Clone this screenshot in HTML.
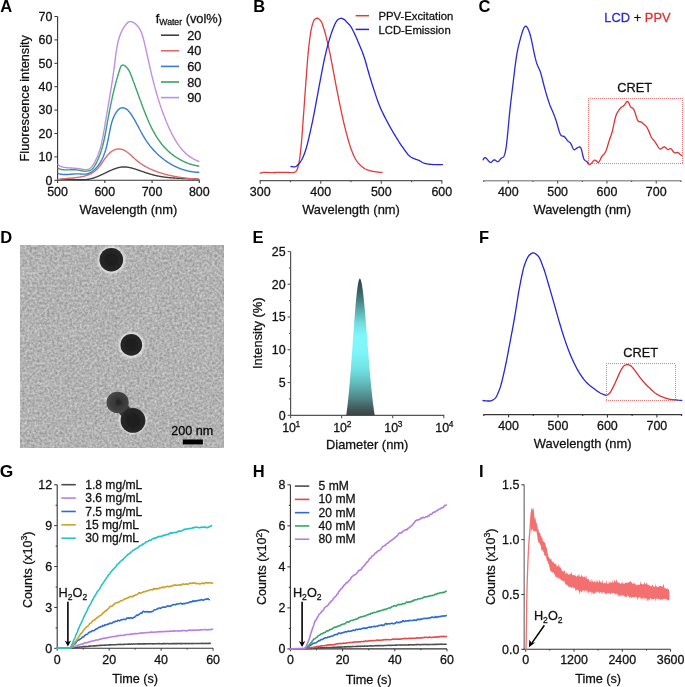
<!DOCTYPE html><html><head><meta charset="utf-8"><style>html,body{margin:0;padding:0;background:#fff;}svg{display:block;will-change:transform;}</style></head><body><svg width="685" height="687" viewBox="0 0 685 687" font-family='"Liberation Sans", sans-serif' fill="#111">
<style>text{stroke:#111;stroke-width:0.28px;stroke-linejoin:round}text[font-weight="bold"]{stroke:none}</style>
<rect width="685" height="687" fill="#fff"/>
<text x="0.3" y="12.3" font-size="16.5" font-weight="bold" fill="#000">A</text>
<text x="253.2" y="12.3" font-size="16.5" font-weight="bold" fill="#000">B</text>
<text x="478.4" y="12.3" font-size="16.5" font-weight="bold" fill="#000">C</text>
<text x="0.3" y="243" font-size="16.5" font-weight="bold" fill="#000">D</text>
<text x="252.6" y="243" font-size="16.5" font-weight="bold" fill="#000">E</text>
<text x="479" y="242.7" font-size="16.5" font-weight="bold" fill="#000">F</text>
<text x="-0.2" y="477.1" font-size="17.4" font-weight="bold" fill="#000">G</text>
<text x="252.8" y="477" font-size="16.5" font-weight="bold" fill="#000">H</text>
<text x="479" y="476.7" font-size="16.5" font-weight="bold" fill="#000">I</text>
<line x1="57.6" y1="16.5" x2="57.6" y2="180.8" stroke="#333" stroke-width="1.1"/>
<line x1="57.1" y1="180.3" x2="199.3" y2="180.3" stroke="#333" stroke-width="1.1"/>
<line x1="54.4" y1="180.3" x2="57.6" y2="180.3" stroke="#333" stroke-width="1"/>
<text x="52.4" y="184.65" font-size="12.45" text-anchor="end">0</text>
<line x1="54.4" y1="156.9" x2="57.6" y2="156.9" stroke="#333" stroke-width="1"/>
<text x="52.4" y="161.25" font-size="12.45" text-anchor="end">10</text>
<line x1="54.4" y1="133.5" x2="57.6" y2="133.5" stroke="#333" stroke-width="1"/>
<text x="52.4" y="137.85" font-size="12.45" text-anchor="end">20</text>
<line x1="54.4" y1="110.1" x2="57.6" y2="110.1" stroke="#333" stroke-width="1"/>
<text x="52.4" y="114.45" font-size="12.45" text-anchor="end">30</text>
<line x1="54.4" y1="86.7" x2="57.6" y2="86.7" stroke="#333" stroke-width="1"/>
<text x="52.4" y="91.05" font-size="12.45" text-anchor="end">40</text>
<line x1="54.4" y1="63.3" x2="57.6" y2="63.3" stroke="#333" stroke-width="1"/>
<text x="52.4" y="67.65" font-size="12.45" text-anchor="end">50</text>
<line x1="54.4" y1="39.9" x2="57.6" y2="39.9" stroke="#333" stroke-width="1"/>
<text x="52.4" y="44.25" font-size="12.45" text-anchor="end">60</text>
<line x1="54.4" y1="16.5" x2="57.6" y2="16.5" stroke="#333" stroke-width="1"/>
<text x="52.4" y="20.85" font-size="12.45" text-anchor="end">70</text>
<line x1="57.6" y1="180.3" x2="57.6" y2="182.9" stroke="#333" stroke-width="1.1"/>
<text x="57.6" y="195.7" font-size="12.45" text-anchor="middle">500</text>
<line x1="104.83" y1="180.3" x2="104.83" y2="182.9" stroke="#333" stroke-width="1.1"/>
<text x="104.83" y="195.7" font-size="12.45" text-anchor="middle">600</text>
<line x1="152.07" y1="180.3" x2="152.07" y2="182.9" stroke="#333" stroke-width="1.1"/>
<text x="152.07" y="195.7" font-size="12.45" text-anchor="middle">700</text>
<line x1="199.3" y1="180.3" x2="199.3" y2="182.9" stroke="#333" stroke-width="1.1"/>
<text x="199.3" y="195.7" font-size="12.45" text-anchor="middle">800</text>
<text x="128.4" y="214.1" font-size="12.9" text-anchor="middle">Wavelength (nm)</text>
<text x="28.7" y="98.3" font-size="12.7" text-anchor="middle" transform="rotate(-90 28.7 98.3)">Fluorescence intensity</text>
<text x="155.7" y="22.5" font-size="12.8">f<tspan font-size="8.7" dy="2.6">Water</tspan><tspan dy="-2.6"> (vol%)</tspan></text>
<line x1="160.9" y1="35.2" x2="179.1" y2="35.2" stroke="#404040" stroke-width="1.6"/>
<text x="187.2" y="39.7" font-size="12.8">20</text>
<line x1="160.9" y1="50.8" x2="179.1" y2="50.8" stroke="#e46a6a" stroke-width="1.6"/>
<text x="187.2" y="55.3" font-size="12.8">40</text>
<line x1="160.9" y1="66.4" x2="179.1" y2="66.4" stroke="#3a7bd8" stroke-width="1.6"/>
<text x="187.2" y="70.9" font-size="12.8">60</text>
<line x1="160.9" y1="82" x2="179.1" y2="82" stroke="#35a465" stroke-width="1.6"/>
<text x="187.2" y="86.5" font-size="12.8">80</text>
<line x1="160.9" y1="97.6" x2="179.1" y2="97.6" stroke="#c08de6" stroke-width="1.6"/>
<text x="187.2" y="102.1" font-size="12.8">90</text>
<polyline points="57.99,179.95 58.37,179.87 58.75,179.8 59.14,179.74 59.52,179.68 59.91,179.62 60.3,179.57 60.69,179.52 61.08,179.48 61.48,179.44 61.87,179.41 62.27,179.38 62.66,179.35 63.06,179.32 63.46,179.3 63.86,179.29 64.25,179.27 64.66,179.26 65.06,179.25 65.46,179.25 65.86,179.25 66.27,179.25 66.67,179.25 67.07,179.25 67.48,179.26 67.89,179.27 68.29,179.28 68.7,179.29 69.11,179.3 69.52,179.32 69.92,179.33 70.33,179.35 70.74,179.37 71.15,179.39 71.56,179.41 71.97,179.43 72.38,179.45 72.79,179.47 73.2,179.5 73.61,179.52 74.02,179.54 74.43,179.56 74.84,179.58 75.25,179.6 75.66,179.63 76.07,179.65 76.48,179.66 76.89,179.68 77.3,179.7 77.71,179.72 78.12,179.73 78.53,179.74 78.94,179.76 79.35,179.77 79.75,179.78 80.16,179.78 80.57,179.79 80.97,179.79 81.38,179.79 81.78,179.78 82.19,179.78 82.59,179.77 82.99,179.76 83.4,179.75 83.8,179.73 84.2,179.71 84.6,179.68 85,179.66 85.39,179.63 85.79,179.59 86.19,179.55 86.58,179.51 86.97,179.46 87.37,179.41 87.76,179.35 88.15,179.29 88.54,179.23 88.93,179.16 89.31,179.08 89.7,179.01 90.08,178.92 90.47,178.83 90.85,178.74 91.23,178.65 91.61,178.55 91.99,178.44 92.37,178.34 92.75,178.23 93.12,178.11 93.5,177.99 93.88,177.87 94.25,177.75 94.62,177.62 95,177.49 95.37,177.36 95.74,177.22 96.11,177.08 96.48,176.94 96.85,176.79 97.22,176.64 97.59,176.49 97.96,176.34 98.33,176.19 98.7,176.03 99.06,175.87 99.43,175.71 99.8,175.55 100.16,175.39 100.53,175.22 100.9,175.06 101.26,174.89 101.63,174.72 101.99,174.55 102.36,174.37 102.72,174.2 103.09,174.03 103.45,173.85 103.82,173.68 104.18,173.5 104.55,173.32 104.92,173.15 105.28,172.97 105.65,172.79 106.01,172.61 106.38,172.43 106.74,172.26 107.11,172.08 107.48,171.9 107.84,171.73 108.21,171.55 108.58,171.38 108.94,171.21 109.31,171.04 109.68,170.87 110.04,170.7 110.41,170.53 110.78,170.37 111.15,170.21 111.52,170.04 111.89,169.89 112.26,169.73 112.63,169.58 112.99,169.43 113.37,169.28 113.74,169.14 114.11,169 114.48,168.86 114.85,168.72 115.22,168.59 115.59,168.47 115.97,168.34 116.34,168.23 116.71,168.11 117.09,168 117.46,167.9 117.83,167.79 118.21,167.7 118.59,167.61 118.96,167.52 119.34,167.44 119.72,167.36 120.09,167.29 120.47,167.23 120.85,167.17 121.23,167.12 121.61,167.07 121.99,167.03 122.37,167 122.75,166.97 123.13,166.95 123.52,166.94 123.9,166.93 124.28,166.93 124.67,166.94 125.05,166.95 125.44,166.97 125.82,167 126.21,167.03 126.6,167.07 126.98,167.11 127.37,167.16 127.76,167.22 128.15,167.28 128.54,167.35 128.93,167.42 129.32,167.49 129.71,167.57 130.1,167.66 130.49,167.75 130.88,167.84 131.27,167.93 131.66,168.03 132.05,168.14 132.44,168.24 132.83,168.35 133.22,168.47 133.61,168.58 134,168.7 134.39,168.82 134.79,168.94 135.18,169.06 135.57,169.19 135.96,169.32 136.35,169.44 136.74,169.57 137.13,169.7 137.52,169.84 137.91,169.97 138.3,170.1 138.69,170.23 139.07,170.37 139.46,170.5 139.85,170.63 140.24,170.77 140.63,170.9 141.01,171.03 141.4,171.17 141.79,171.3 142.17,171.43 142.56,171.57 142.95,171.7 143.33,171.83 143.72,171.96 144.11,172.09 144.49,172.22 144.88,172.35 145.27,172.48 145.65,172.61 146.04,172.74 146.42,172.87 146.81,172.99 147.2,173.12 147.58,173.24 147.97,173.37 148.36,173.49 148.74,173.61 149.13,173.73 149.51,173.85 149.9,173.97 150.29,174.08 150.68,174.2 151.06,174.31 151.45,174.42 151.84,174.53 152.23,174.64 152.61,174.74 153,174.85 153.39,174.95 153.78,175.05 154.17,175.15 154.56,175.25 154.95,175.34 155.34,175.44 155.73,175.53 156.12,175.62 156.51,175.7 156.9,175.79 157.29,175.87 157.68,175.95 158.08,176.03 158.47,176.11 158.86,176.18 159.25,176.26 159.65,176.33 160.04,176.4 160.43,176.47 160.83,176.54 161.22,176.6 161.62,176.67 162.01,176.73 162.41,176.79 162.8,176.85 163.2,176.91 163.59,176.97 163.99,177.02 164.38,177.07 164.78,177.13 165.18,177.18 165.57,177.23 165.97,177.28 166.37,177.32 166.76,177.37 167.16,177.41 167.56,177.46 167.96,177.5 168.36,177.54 168.75,177.58 169.15,177.62 169.55,177.66 169.95,177.69 170.35,177.73 170.75,177.76 171.15,177.8 171.54,177.83 171.94,177.86 172.34,177.89 172.74,177.92 173.14,177.95 173.54,177.98 173.94,178.01 174.34,178.04 174.74,178.06 175.14,178.09 175.54,178.11 175.94,178.14 176.35,178.16 176.75,178.19 177.15,178.21 177.55,178.23 177.95,178.25 178.35,178.27 178.75,178.29 179.15,178.31 179.55,178.33 179.95,178.35 180.36,178.37 180.76,178.39 181.16,178.41 181.56,178.43 181.96,178.45 182.36,178.46 182.76,178.48 183.17,178.5 183.57,178.52 183.97,178.53 184.37,178.55 184.77,178.57 185.17,178.58 185.58,178.6 185.98,178.62 186.38,178.63 186.78,178.65 187.18,178.67 187.58,178.69 187.98,178.7 188.39,178.72 188.79,178.74 189.19,178.76 189.59,178.78 189.99,178.79 190.39,178.81 190.79,178.83 191.2,178.85 191.6,178.87 192,178.89 192.4,178.91 192.8,178.94 193.2,178.96 193.6,178.98 194,179 194.4,179.03 194.8,179.05 195.2,179.07 195.6,179.1 196,179.13 196.4,179.15 196.8,179.18 197.2,179.21 197.6,179.24 198,179.27 198.4,179.3 198.8,179.33" fill="none" stroke="#404040" stroke-width="1.4" stroke-linejoin="round" stroke-linecap="round"/>
<polyline points="58.07,179.55 58.44,179.48 58.81,179.42 59.18,179.36 59.56,179.3 59.93,179.24 60.31,179.18 60.69,179.13 61.08,179.08 61.46,179.03 61.85,178.98 62.23,178.93 62.62,178.89 63.01,178.84 63.41,178.8 63.8,178.76 64.2,178.72 64.59,178.68 64.99,178.64 65.39,178.6 65.79,178.57 66.19,178.53 66.59,178.5 67,178.46 67.4,178.43 67.81,178.39 68.21,178.36 68.62,178.32 69.03,178.29 69.43,178.25 69.84,178.22 70.25,178.18 70.66,178.15 71.07,178.11 71.48,178.08 71.89,178.04 72.3,178 72.71,177.96 73.12,177.92 73.53,177.88 73.94,177.84 74.35,177.8 74.76,177.76 75.17,177.71 75.58,177.66 75.99,177.62 76.4,177.57 76.81,177.51 77.22,177.46 77.63,177.41 78.03,177.35 78.44,177.29 78.84,177.23 79.25,177.17 79.65,177.1 80.05,177.03 80.45,176.96 80.85,176.89 81.25,176.81 81.65,176.73 82.05,176.65 82.44,176.57 82.84,176.48 83.23,176.39 83.62,176.3 84.01,176.2 84.39,176.1 84.78,176 85.16,175.89 85.55,175.78 85.93,175.66 86.3,175.54 86.68,175.42 87.05,175.29 87.43,175.16 87.8,175.03 88.16,174.89 88.53,174.74 88.89,174.6 89.25,174.44 89.61,174.29 89.96,174.12 90.32,173.96 90.67,173.79 91.01,173.61 91.36,173.43 91.7,173.24 92.04,173.05 92.37,172.85 92.71,172.65 93.04,172.44 93.36,172.22 93.68,172 94,171.78 94.32,171.55 94.63,171.31 94.94,171.07 95.25,170.82 95.55,170.56 95.85,170.3 96.14,170.03 96.43,169.75 96.72,169.47 97,169.19 97.29,168.89 97.56,168.6 97.84,168.29 98.11,167.99 98.38,167.67 98.65,167.36 98.91,167.04 99.17,166.71 99.43,166.39 99.69,166.06 99.95,165.72 100.2,165.39 100.45,165.05 100.7,164.71 100.95,164.36 101.2,164.02 101.45,163.67 101.69,163.32 101.94,162.97 102.18,162.62 102.43,162.27 102.67,161.92 102.91,161.57 103.16,161.21 103.4,160.86 103.64,160.51 103.89,160.16 104.13,159.81 104.37,159.47 104.62,159.12 104.86,158.77 105.11,158.43 105.35,158.09 105.6,157.75 105.85,157.42 106.1,157.09 106.35,156.76 106.61,156.43 106.86,156.11 107.12,155.79 107.38,155.48 107.64,155.17 107.91,154.87 108.17,154.57 108.44,154.27 108.71,153.98 108.99,153.7 109.26,153.42 109.54,153.15 109.83,152.89 110.11,152.63 110.4,152.37 110.7,152.13 111,151.89 111.3,151.66 111.6,151.44 111.91,151.23 112.23,151.02 112.54,150.82 112.87,150.64 113.19,150.46 113.53,150.29 113.86,150.12 114.2,149.97 114.55,149.83 114.9,149.7 115.25,149.58 115.61,149.47 115.97,149.37 116.33,149.28 116.7,149.2 117.06,149.14 117.43,149.08 117.8,149.04 118.17,149 118.54,148.98 118.91,148.98 119.28,148.98 119.64,149 120.01,149.03 120.38,149.07 120.74,149.12 121.1,149.19 121.46,149.27 121.81,149.36 122.17,149.47 122.52,149.58 122.87,149.71 123.22,149.85 123.56,150 123.91,150.16 124.25,150.32 124.59,150.5 124.93,150.69 125.27,150.88 125.61,151.09 125.94,151.3 126.28,151.52 126.61,151.74 126.94,151.97 127.27,152.21 127.6,152.46 127.93,152.71 128.26,152.97 128.58,153.23 128.91,153.5 129.23,153.77 129.55,154.04 129.88,154.32 130.2,154.6 130.52,154.89 130.84,155.17 131.16,155.46 131.48,155.75 131.8,156.05 132.12,156.34 132.43,156.63 132.75,156.93 133.07,157.22 133.39,157.52 133.71,157.81 134.02,158.1 134.34,158.4 134.66,158.69 134.98,158.97 135.29,159.26 135.61,159.54 135.93,159.82 136.25,160.1 136.57,160.37 136.89,160.64 137.21,160.9 137.53,161.16 137.85,161.42 138.17,161.67 138.49,161.92 138.82,162.17 139.14,162.41 139.46,162.65 139.79,162.89 140.11,163.13 140.44,163.36 140.77,163.58 141.09,163.81 141.42,164.03 141.75,164.25 142.08,164.47 142.41,164.68 142.74,164.89 143.07,165.1 143.41,165.3 143.74,165.51 144.07,165.71 144.41,165.9 144.75,166.1 145.08,166.29 145.42,166.48 145.76,166.67 146.1,166.86 146.44,167.04 146.79,167.23 147.13,167.41 147.48,167.58 147.82,167.76 148.17,167.94 148.52,168.11 148.87,168.28 149.22,168.45 149.57,168.62 149.93,168.78 150.28,168.95 150.64,169.11 151,169.27 151.36,169.43 151.72,169.59 152.08,169.75 152.44,169.9 152.8,170.05 153.17,170.21 153.53,170.36 153.9,170.5 154.27,170.65 154.64,170.8 155.01,170.94 155.38,171.08 155.75,171.23 156.13,171.37 156.5,171.5 156.88,171.64 157.25,171.78 157.63,171.91 158.01,172.04 158.39,172.17 158.77,172.3 159.15,172.43 159.53,172.56 159.91,172.68 160.29,172.81 160.68,172.93 161.06,173.05 161.45,173.17 161.84,173.29 162.22,173.4 162.61,173.52 163,173.63 163.39,173.75 163.78,173.86 164.17,173.97 164.56,174.08 164.95,174.18 165.35,174.29 165.74,174.39 166.13,174.5 166.53,174.6 166.92,174.7 167.32,174.8 167.71,174.9 168.11,174.99 168.51,175.09 168.9,175.18 169.3,175.28 169.7,175.37 170.1,175.46 170.5,175.55 170.89,175.64 171.29,175.72 171.69,175.81 172.09,175.89 172.49,175.98 172.9,176.06 173.3,176.14 173.7,176.22 174.1,176.3 174.5,176.37 174.9,176.45 175.31,176.53 175.71,176.6 176.11,176.67 176.51,176.74 176.92,176.81 177.32,176.88 177.72,176.95 178.12,177.02 178.53,177.08 178.93,177.15 179.33,177.21 179.74,177.27 180.14,177.34 180.54,177.4 180.95,177.45 181.35,177.51 181.75,177.57 182.15,177.63 182.56,177.68 182.96,177.74 183.36,177.79 183.76,177.84 184.17,177.89 184.57,177.94 184.97,177.99 185.37,178.04 185.77,178.09 186.17,178.13 186.57,178.18 186.97,178.22 187.37,178.26 187.77,178.31 188.17,178.35 188.57,178.39 188.97,178.43 189.37,178.47 189.77,178.5 190.16,178.54 190.56,178.58 190.96,178.61 191.35,178.64 191.75,178.68 192.14,178.71 192.54,178.74 192.93,178.77 193.33,178.8 193.72,178.83 194.11,178.86 194.5,178.88 194.89,178.91 195.28,178.94 195.67,178.96 196.06,178.98 196.45,179.01 196.84,179.03 197.22,179.05 197.61,179.07 197.99,179.09 198.38,179.11 198.76,179.13" fill="none" stroke="#e46a6a" stroke-width="1.4" stroke-linejoin="round" stroke-linecap="round"/>
<polyline points="57.97,173.44 58.38,173.58 58.79,173.7 59.19,173.82 59.59,173.92 60,174.02 60.4,174.11 60.8,174.19 61.2,174.26 61.6,174.32 62,174.37 62.4,174.42 62.79,174.46 63.19,174.49 63.59,174.52 63.98,174.54 64.38,174.55 64.78,174.56 65.17,174.57 65.56,174.56 65.96,174.56 66.35,174.55 66.75,174.54 67.14,174.52 67.54,174.5 67.93,174.47 68.32,174.45 68.72,174.42 69.11,174.39 69.51,174.35 69.9,174.32 70.29,174.29 70.69,174.25 71.09,174.21 71.48,174.18 71.88,174.14 72.27,174.11 72.67,174.07 73.07,174.04 73.47,174.01 73.87,173.98 74.26,173.95 74.67,173.92 75.07,173.9 75.47,173.88 75.87,173.87 76.27,173.85 76.68,173.85 77.08,173.84 77.49,173.84 77.9,173.85 78.31,173.86 78.72,173.88 79.13,173.9 79.54,173.92 79.95,173.95 80.36,173.98 80.77,174.01 81.19,174.04 81.6,174.07 82.01,174.09 82.42,174.12 82.83,174.13 83.23,174.15 83.64,174.16 84.04,174.16 84.44,174.15 84.84,174.14 85.24,174.12 85.63,174.08 86.02,174.04 86.41,173.98 86.8,173.91 87.18,173.83 87.55,173.73 87.93,173.62 88.3,173.5 88.66,173.37 89.03,173.23 89.39,173.07 89.74,172.91 90.1,172.73 90.44,172.55 90.79,172.36 91.13,172.15 91.47,171.94 91.8,171.72 92.13,171.5 92.45,171.26 92.78,171.02 93.09,170.77 93.41,170.52 93.72,170.26 94.02,170 94.32,169.72 94.62,169.45 94.91,169.17 95.2,168.89 95.49,168.6 95.77,168.31 96.04,168.01 96.32,167.72 96.58,167.42 96.85,167.12 97.11,166.81 97.36,166.51 97.61,166.2 97.86,165.89 98.11,165.58 98.35,165.26 98.58,164.94 98.81,164.62 99.04,164.3 99.27,163.97 99.49,163.65 99.7,163.32 99.92,162.99 100.13,162.65 100.33,162.32 100.54,161.98 100.74,161.64 100.93,161.3 101.13,160.96 101.32,160.61 101.5,160.27 101.69,159.92 101.87,159.57 102.05,159.22 102.22,158.86 102.39,158.51 102.56,158.15 102.73,157.79 102.89,157.43 103.05,157.07 103.21,156.7 103.36,156.34 103.51,155.97 103.66,155.6 103.81,155.23 103.95,154.86 104.09,154.49 104.23,154.12 104.37,153.74 104.51,153.37 104.64,152.99 104.77,152.61 104.9,152.23 105.02,151.85 105.14,151.47 105.27,151.08 105.39,150.7 105.5,150.31 105.62,149.93 105.73,149.54 105.84,149.15 105.96,148.76 106.06,148.38 106.17,147.98 106.28,147.59 106.38,147.2 106.48,146.81 106.58,146.41 106.68,146.02 106.78,145.63 106.87,145.23 106.97,144.83 107.06,144.44 107.15,144.04 107.25,143.64 107.34,143.25 107.43,142.85 107.51,142.45 107.6,142.05 107.69,141.65 107.77,141.25 107.86,140.85 107.94,140.45 108.02,140.05 108.1,139.65 108.18,139.25 108.26,138.85 108.34,138.45 108.42,138.05 108.5,137.65 108.58,137.24 108.66,136.84 108.74,136.44 108.81,136.04 108.89,135.64 108.97,135.24 109.05,134.84 109.12,134.44 109.2,134.04 109.28,133.64 109.35,133.24 109.43,132.84 109.5,132.45 109.58,132.05 109.66,131.65 109.74,131.26 109.81,130.86 109.89,130.46 109.97,130.07 110.05,129.67 110.13,129.28 110.21,128.89 110.29,128.49 110.37,128.1 110.45,127.71 110.54,127.32 110.62,126.93 110.71,126.54 110.79,126.15 110.88,125.76 110.97,125.38 111.07,124.99 111.16,124.61 111.26,124.22 111.36,123.84 111.46,123.45 111.57,123.07 111.67,122.69 111.78,122.31 111.9,121.93 112.01,121.55 112.13,121.17 112.25,120.79 112.38,120.41 112.51,120.04 112.64,119.66 112.78,119.28 112.92,118.91 113.06,118.54 113.21,118.16 113.36,117.79 113.52,117.42 113.68,117.05 113.85,116.68 114.02,116.32 114.2,115.95 114.38,115.58 114.57,115.22 114.76,114.85 114.96,114.49 115.16,114.12 115.37,113.76 115.58,113.4 115.8,113.04 116.03,112.68 116.26,112.32 116.5,111.97 116.74,111.62 116.99,111.27 117.25,110.93 117.51,110.6 117.78,110.29 118.06,109.98 118.34,109.69 118.62,109.42 118.92,109.16 119.22,108.92 119.52,108.71 119.83,108.51 120.14,108.35 120.46,108.2 120.79,108.08 121.12,107.98 121.45,107.91 121.78,107.86 122.12,107.82 122.45,107.81 122.79,107.82 123.12,107.85 123.45,107.9 123.79,107.97 124.11,108.05 124.44,108.16 124.76,108.28 125.08,108.42 125.39,108.57 125.7,108.74 126.01,108.92 126.32,109.12 126.62,109.34 126.91,109.56 127.21,109.8 127.5,110.05 127.78,110.31 128.07,110.59 128.35,110.87 128.63,111.16 128.9,111.46 129.17,111.78 129.44,112.1 129.71,112.42 129.97,112.76 130.23,113.1 130.49,113.44 130.74,113.8 130.99,114.15 131.24,114.51 131.49,114.88 131.73,115.24 131.97,115.61 132.21,115.99 132.44,116.36 132.68,116.73 132.91,117.11 133.14,117.48 133.36,117.85 133.58,118.22 133.81,118.6 134.02,118.97 134.24,119.34 134.46,119.71 134.67,120.08 134.88,120.45 135.09,120.81 135.3,121.18 135.5,121.55 135.7,121.91 135.91,122.28 136.11,122.65 136.31,123.01 136.51,123.37 136.7,123.74 136.9,124.1 137.09,124.46 137.29,124.82 137.48,125.18 137.67,125.54 137.86,125.9 138.05,126.26 138.24,126.62 138.43,126.98 138.62,127.33 138.8,127.69 138.99,128.04 139.18,128.4 139.36,128.75 139.55,129.11 139.74,129.46 139.92,129.81 140.11,130.16 140.29,130.51 140.48,130.86 140.67,131.21 140.85,131.56 141.04,131.91 141.23,132.26 141.41,132.6 141.6,132.95 141.79,133.29 141.98,133.64 142.17,133.98 142.36,134.32 142.55,134.67 142.75,135.01 142.94,135.35 143.13,135.69 143.33,136.03 143.53,136.36 143.73,136.7 143.93,137.04 144.13,137.37 144.33,137.71 144.53,138.04 144.74,138.38 144.95,138.71 145.16,139.04 145.37,139.37 145.58,139.71 145.8,140.04 146.01,140.36 146.23,140.69 146.45,141.02 146.68,141.35 146.9,141.67 147.12,142 147.35,142.32 147.58,142.64 147.81,142.96 148.04,143.29 148.28,143.61 148.51,143.92 148.75,144.24 148.99,144.56 149.23,144.87 149.47,145.19 149.72,145.5 149.96,145.82 150.21,146.13 150.46,146.44 150.71,146.75 150.96,147.06 151.22,147.36 151.47,147.67 151.73,147.97 151.99,148.28 152.25,148.58 152.51,148.88 152.78,149.18 153.04,149.48 153.31,149.78 153.58,150.07 153.85,150.37 154.12,150.66 154.39,150.95 154.67,151.24 154.94,151.53 155.22,151.82 155.5,152.11 155.78,152.39 156.06,152.68 156.35,152.96 156.63,153.24 156.92,153.52 157.21,153.8 157.49,154.08 157.79,154.35 158.08,154.63 158.37,154.9 158.67,155.17 158.97,155.44 159.26,155.71 159.56,155.97 159.86,156.24 160.17,156.5 160.47,156.76 160.78,157.02 161.08,157.28 161.39,157.54 161.7,157.79 162.01,158.04 162.32,158.29 162.64,158.54 162.95,158.79 163.27,159.04 163.59,159.28 163.91,159.52 164.23,159.77 164.55,160 164.87,160.24 165.2,160.48 165.52,160.71 165.85,160.94 166.18,161.17 166.51,161.4 166.84,161.63 167.17,161.85 167.5,162.07 167.84,162.29 168.17,162.51 168.51,162.73 168.85,162.94 169.19,163.15 169.53,163.36 169.87,163.57 170.21,163.78 170.56,163.98 170.9,164.18 171.25,164.38 171.6,164.58 171.95,164.77 172.3,164.97 172.65,165.16 173,165.35 173.35,165.54 173.71,165.72 174.06,165.9 174.42,166.08 174.78,166.26 175.14,166.44 175.5,166.61 175.86,166.78 176.22,166.95 176.59,167.12 176.95,167.28 177.32,167.44 177.69,167.6 178.05,167.76 178.42,167.92 178.79,168.07 179.16,168.22 179.54,168.37 179.91,168.51 180.28,168.65 180.66,168.79 181.03,168.93 181.41,169.07 181.79,169.2 182.17,169.33 182.55,169.46 182.93,169.58 183.31,169.71 183.7,169.83 184.08,169.94 184.47,170.06 184.85,170.17 185.24,170.28 185.63,170.39 186.01,170.49 186.4,170.59 186.79,170.69 187.19,170.79 187.58,170.88 187.97,170.97 188.37,171.06 188.76,171.15 189.16,171.23 189.55,171.31 189.95,171.39 190.35,171.46 190.75,171.53 191.15,171.6 191.55,171.66 191.95,171.73 192.35,171.79 192.76,171.84 193.16,171.9 193.57,171.95 193.97,172 194.38,172.04 194.79,172.08 195.19,172.12 195.6,172.16 196.01,172.19 196.42,172.22 196.83,172.25 197.25,172.27 197.66,172.29 198.07,172.31 198.49,172.32 198.9,172.34" fill="none" stroke="#3a7bd8" stroke-width="1.4" stroke-linejoin="round" stroke-linecap="round"/>
<polyline points="58.01,168.26 58.38,168.44 58.75,168.6 59.13,168.76 59.5,168.9 59.88,169.03 60.26,169.15 60.65,169.26 61.04,169.36 61.43,169.44 61.82,169.52 62.21,169.59 62.61,169.65 63.01,169.71 63.4,169.75 63.81,169.79 64.21,169.83 64.61,169.85 65.02,169.87 65.42,169.89 65.83,169.9 66.24,169.9 66.64,169.9 67.05,169.9 67.46,169.89 67.87,169.89 68.28,169.88 68.69,169.86 69.1,169.85 69.51,169.83 69.92,169.82 70.32,169.8 70.73,169.79 71.14,169.78 71.54,169.76 71.95,169.75 72.35,169.74 72.75,169.74 73.16,169.73 73.56,169.73 73.95,169.74 74.35,169.74 74.74,169.76 75.14,169.78 75.53,169.8 75.91,169.83 76.3,169.87 76.68,169.91 77.06,169.96 77.44,170.02 77.82,170.08 78.2,170.14 78.57,170.21 78.95,170.29 79.33,170.36 79.71,170.44 80.09,170.51 80.47,170.59 80.86,170.66 81.25,170.73 81.64,170.8 82.04,170.87 82.44,170.93 82.85,170.99 83.27,171.04 83.68,171.08 84.11,171.12 84.53,171.15 84.96,171.17 85.39,171.18 85.82,171.18 86.25,171.17 86.67,171.15 87.09,171.12 87.51,171.07 87.92,171.01 88.33,170.94 88.73,170.85 89.12,170.75 89.5,170.63 89.87,170.5 90.22,170.35 90.57,170.18 90.9,169.99 91.23,169.79 91.54,169.57 91.84,169.34 92.13,169.1 92.41,168.84 92.68,168.57 92.95,168.29 93.2,167.99 93.45,167.69 93.69,167.38 93.92,167.06 94.15,166.73 94.37,166.4 94.58,166.06 94.8,165.72 95,165.37 95.2,165.02 95.4,164.66 95.6,164.3 95.79,163.95 95.98,163.59 96.17,163.23 96.35,162.87 96.54,162.5 96.72,162.14 96.9,161.78 97.07,161.42 97.25,161.05 97.42,160.69 97.59,160.32 97.75,159.96 97.92,159.59 98.08,159.22 98.24,158.85 98.4,158.49 98.56,158.12 98.71,157.75 98.87,157.38 99.02,157 99.17,156.63 99.31,156.26 99.46,155.89 99.6,155.51 99.74,155.14 99.88,154.76 100.02,154.39 100.15,154.01 100.29,153.64 100.42,153.26 100.55,152.88 100.68,152.5 100.81,152.12 100.93,151.75 101.05,151.37 101.18,150.99 101.3,150.6 101.42,150.22 101.53,149.84 101.65,149.46 101.76,149.08 101.88,148.69 101.99,148.31 102.1,147.93 102.21,147.54 102.31,147.16 102.42,146.77 102.53,146.39 102.63,146 102.73,145.62 102.83,145.23 102.93,144.84 103.03,144.45 103.13,144.07 103.22,143.68 103.32,143.29 103.41,142.9 103.51,142.51 103.6,142.12 103.69,141.73 103.78,141.34 103.87,140.95 103.96,140.56 104.04,140.17 104.13,139.78 104.21,139.39 104.3,139 104.38,138.61 104.46,138.21 104.55,137.82 104.63,137.43 104.71,137.04 104.79,136.64 104.87,136.25 104.94,135.86 105.02,135.46 105.1,135.07 105.17,134.67 105.25,134.28 105.33,133.88 105.4,133.49 105.47,133.1 105.55,132.7 105.62,132.31 105.69,131.91 105.77,131.52 105.84,131.12 105.91,130.72 105.98,130.33 106.05,129.93 106.12,129.54 106.19,129.14 106.27,128.75 106.34,128.35 106.41,127.95 106.48,127.56 106.54,127.16 106.61,126.77 106.68,126.37 106.75,125.97 106.82,125.58 106.89,125.18 106.96,124.79 107.03,124.39 107.1,123.99 107.17,123.6 107.24,123.2 107.31,122.81 107.38,122.41 107.45,122.01 107.52,121.62 107.59,121.22 107.66,120.83 107.73,120.43 107.8,120.04 107.87,119.64 107.94,119.25 108.01,118.85 108.09,118.46 108.16,118.06 108.23,117.67 108.3,117.27 108.37,116.88 108.45,116.48 108.52,116.09 108.59,115.69 108.67,115.3 108.74,114.9 108.81,114.51 108.89,114.11 108.96,113.72 109.04,113.33 109.11,112.93 109.19,112.54 109.26,112.14 109.34,111.75 109.41,111.36 109.49,110.96 109.57,110.57 109.64,110.17 109.72,109.78 109.8,109.39 109.87,108.99 109.95,108.6 110.03,108.21 110.11,107.81 110.19,107.42 110.26,107.03 110.34,106.63 110.42,106.24 110.5,105.85 110.58,105.46 110.66,105.06 110.74,104.67 110.82,104.28 110.91,103.89 110.99,103.49 111.07,103.1 111.15,102.71 111.23,102.32 111.32,101.93 111.4,101.53 111.48,101.14 111.57,100.75 111.65,100.36 111.74,99.97 111.82,99.58 111.91,99.18 111.99,98.79 112.08,98.4 112.16,98.01 112.25,97.62 112.34,97.23 112.43,96.84 112.51,96.45 112.6,96.06 112.69,95.66 112.78,95.27 112.87,94.88 112.96,94.49 113.05,94.1 113.14,93.71 113.23,93.32 113.32,92.93 113.41,92.54 113.5,92.15 113.6,91.76 113.69,91.37 113.78,90.98 113.88,90.59 113.97,90.2 114.07,89.81 114.16,89.43 114.26,89.04 114.35,88.65 114.45,88.26 114.55,87.87 114.64,87.48 114.74,87.09 114.84,86.7 114.94,86.31 115.04,85.93 115.14,85.54 115.24,85.15 115.34,84.76 115.44,84.37 115.54,83.99 115.64,83.6 115.75,83.21 115.85,82.82 115.95,82.43 116.06,82.05 116.16,81.66 116.26,81.27 116.37,80.88 116.48,80.5 116.58,80.11 116.69,79.72 116.8,79.34 116.91,78.95 117.01,78.56 117.12,78.18 117.23,77.79 117.34,77.4 117.45,77.02 117.56,76.63 117.68,76.25 117.79,75.86 117.9,75.47 118.01,75.09 118.13,74.7 118.24,74.32 118.36,73.93 118.47,73.55 118.59,73.16 118.71,72.78 118.82,72.39 118.94,72.01 119.06,71.62 119.18,71.24 119.3,70.85 119.42,70.47 119.54,70.08 119.66,69.7 119.78,69.31 119.9,68.93 120.03,68.55 120.15,68.17 120.28,67.8 120.42,67.43 120.56,67.09 120.71,66.76 120.87,66.45 121.04,66.16 121.23,65.9 121.43,65.67 121.64,65.47 121.87,65.31 122.12,65.18 122.39,65.1 122.68,65.07 122.99,65.08 123.32,65.14 123.67,65.25 124.03,65.39 124.39,65.57 124.75,65.79 125.11,66.04 125.47,66.32 125.82,66.62 126.17,66.94 126.5,67.28 126.83,67.63 127.15,68 127.45,68.37 127.74,68.74 128.01,69.11 128.27,69.47 128.51,69.84 128.75,70.21 128.97,70.58 129.18,70.95 129.38,71.32 129.57,71.68 129.75,72.05 129.93,72.42 130.1,72.79 130.26,73.15 130.41,73.52 130.57,73.89 130.71,74.25 130.86,74.62 131,74.99 131.14,75.36 131.28,75.72 131.41,76.09 131.55,76.46 131.69,76.83 131.83,77.2 131.97,77.57 132.1,77.93 132.24,78.3 132.38,78.67 132.52,79.04 132.65,79.41 132.79,79.78 132.93,80.15 133.06,80.52 133.2,80.9 133.34,81.27 133.47,81.64 133.61,82.01 133.75,82.38 133.88,82.75 134.02,83.12 134.16,83.5 134.29,83.87 134.43,84.24 134.56,84.61 134.7,84.99 134.84,85.36 134.97,85.73 135.11,86.11 135.25,86.48 135.38,86.85 135.52,87.23 135.65,87.6 135.79,87.97 135.93,88.35 136.06,88.72 136.2,89.1 136.33,89.47 136.47,89.85 136.61,90.22 136.74,90.6 136.88,90.97 137.02,91.35 137.15,91.72 137.29,92.1 137.43,92.47 137.56,92.85 137.7,93.22 137.84,93.6 137.97,93.97 138.11,94.35 138.25,94.73 138.39,95.1 138.52,95.48 138.66,95.85 138.8,96.23 138.94,96.61 139.07,96.98 139.21,97.36 139.35,97.73 139.49,98.11 139.63,98.49 139.77,98.86 139.9,99.24 140.04,99.62 140.18,99.99 140.32,100.37 140.46,100.75 140.6,101.12 140.74,101.5 140.88,101.87 141.02,102.25 141.16,102.63 141.3,103 141.44,103.38 141.58,103.76 141.73,104.13 141.87,104.51 142.01,104.89 142.15,105.26 142.29,105.64 142.44,106.02 142.58,106.39 142.72,106.77 142.86,107.14 143.01,107.52 143.15,107.9 143.3,108.27 143.44,108.65 143.59,109.02 143.73,109.4 143.88,109.78 144.02,110.15 144.17,110.53 144.31,110.9 144.46,111.28 144.61,111.65 144.75,112.03 144.9,112.4 145.05,112.78 145.2,113.15 145.35,113.53 145.49,113.9 145.64,114.28 145.79,114.65 145.94,115.03 146.09,115.4 146.25,115.77 146.4,116.15 146.55,116.52 146.7,116.89 146.86,117.27 147.01,117.64 147.16,118.01 147.32,118.38 147.47,118.75 147.63,119.12 147.79,119.5 147.94,119.87 148.1,120.24 148.26,120.61 148.42,120.97 148.58,121.34 148.74,121.71 148.9,122.08 149.07,122.45 149.23,122.81 149.39,123.18 149.56,123.55 149.73,123.91 149.89,124.28 150.06,124.64 150.23,125.01 150.4,125.37 150.57,125.73 150.74,126.09 150.91,126.46 151.09,126.82 151.26,127.18 151.44,127.54 151.61,127.89 151.79,128.25 151.97,128.61 152.15,128.97 152.33,129.32 152.51,129.68 152.69,130.03 152.88,130.39 153.06,130.74 153.25,131.09 153.44,131.44 153.63,131.79 153.82,132.14 154.01,132.49 154.2,132.84 154.4,133.19 154.59,133.53 154.79,133.88 154.99,134.22 155.19,134.57 155.39,134.91 155.59,135.25 155.79,135.59 156,135.93 156.21,136.27 156.41,136.61 156.62,136.94 156.84,137.28 157.05,137.61 157.26,137.94 157.48,138.28 157.7,138.61 157.92,138.94 158.14,139.27 158.36,139.59 158.58,139.92 158.81,140.25 159.04,140.57 159.27,140.89 159.5,141.21 159.73,141.53 159.96,141.85 160.2,142.17 160.44,142.49 160.68,142.8 160.92,143.12 161.16,143.43 161.41,143.74 161.65,144.05 161.9,144.36 162.15,144.67 162.41,144.97 162.66,145.28 162.92,145.58 163.18,145.88 163.44,146.18 163.7,146.48 163.96,146.78 164.23,147.07 164.5,147.37 164.77,147.66 165.04,147.95 165.32,148.24 165.6,148.53 165.88,148.81 166.16,149.1 166.44,149.38 166.73,149.66 167.02,149.94 167.31,150.22 167.6,150.5 167.89,150.77 168.19,151.05 168.49,151.32 168.79,151.59 169.09,151.86 169.39,152.12 169.7,152.39 170.01,152.65 170.32,152.91 170.63,153.17 170.94,153.43 171.26,153.68 171.58,153.93 171.9,154.19 172.22,154.43 172.54,154.68 172.86,154.93 173.19,155.17 173.52,155.41 173.84,155.65 174.17,155.89 174.51,156.12 174.84,156.36 175.18,156.59 175.51,156.81 175.85,157.04 176.19,157.26 176.53,157.49 176.87,157.71 177.22,157.92 177.56,158.14 177.91,158.35 178.26,158.56 178.6,158.77 178.95,158.98 179.31,159.18 179.66,159.38 180.01,159.58 180.37,159.78 180.72,159.97 181.08,160.16 181.44,160.35 181.8,160.54 182.16,160.72 182.52,160.9 182.88,161.08 183.25,161.26 183.61,161.43 183.98,161.6 184.34,161.77 184.71,161.94 185.08,162.1 185.45,162.26 185.82,162.42 186.19,162.58 186.56,162.73 186.93,162.88 187.31,163.03 187.68,163.17 188.05,163.31 188.43,163.45 188.81,163.58 189.18,163.72 189.56,163.85 189.94,163.97 190.31,164.1 190.69,164.22 191.07,164.34 191.45,164.45 191.83,164.57 192.21,164.67 192.59,164.78 192.97,164.88 193.36,164.98 193.74,165.08 194.12,165.17 194.5,165.26 194.88,165.35 195.27,165.44 195.65,165.52 196.03,165.6 196.42,165.67 196.8,165.74 197.19,165.81 197.57,165.87 197.95,165.94 198.34,165.99 198.72,166.05" fill="none" stroke="#35a465" stroke-width="1.4" stroke-linejoin="round" stroke-linecap="round"/>
<polyline points="58.02,164.7 58.36,164.96 58.71,165.2 59.06,165.42 59.41,165.63 59.77,165.83 60.13,166.01 60.5,166.18 60.87,166.34 61.24,166.49 61.62,166.63 62,166.75 62.38,166.87 62.76,166.98 63.15,167.08 63.53,167.17 63.92,167.25 64.31,167.32 64.7,167.39 65.09,167.45 65.49,167.51 65.88,167.56 66.27,167.61 66.67,167.65 67.06,167.69 67.45,167.73 67.85,167.76 68.24,167.8 68.63,167.83 69.02,167.86 69.41,167.88 69.8,167.91 70.19,167.94 70.58,167.96 70.96,167.98 71.35,168.01 71.74,168.03 72.13,168.05 72.52,168.08 72.91,168.1 73.29,168.13 73.68,168.15 74.07,168.18 74.46,168.21 74.86,168.23 75.25,168.26 75.64,168.3 76.03,168.33 76.43,168.37 76.82,168.4 77.22,168.44 77.61,168.49 78.01,168.53 78.41,168.58 78.82,168.63 79.22,168.69 79.62,168.75 80.03,168.81 80.44,168.88 80.85,168.95 81.26,169.02 81.67,169.1 82.08,169.17 82.49,169.25 82.9,169.32 83.31,169.39 83.72,169.45 84.12,169.5 84.52,169.55 84.92,169.59 85.32,169.62 85.71,169.64 86.09,169.64 86.47,169.63 86.84,169.6 87.2,169.56 87.56,169.49 87.91,169.41 88.25,169.31 88.59,169.18 88.91,169.04 89.23,168.87 89.53,168.69 89.83,168.48 90.13,168.26 90.41,168.02 90.69,167.77 90.96,167.51 91.23,167.23 91.49,166.94 91.74,166.64 91.99,166.33 92.23,166.01 92.47,165.68 92.7,165.34 92.93,165 93.15,164.66 93.37,164.31 93.59,163.96 93.8,163.6 94.01,163.25 94.22,162.89 94.42,162.54 94.62,162.18 94.82,161.82 95.02,161.46 95.21,161.1 95.4,160.74 95.58,160.38 95.77,160.01 95.95,159.65 96.12,159.28 96.3,158.92 96.47,158.55 96.64,158.18 96.81,157.82 96.97,157.45 97.13,157.08 97.29,156.71 97.45,156.34 97.61,155.96 97.76,155.59 97.91,155.22 98.05,154.84 98.2,154.47 98.34,154.09 98.48,153.72 98.62,153.34 98.76,152.96 98.89,152.58 99.02,152.2 99.15,151.83 99.28,151.44 99.4,151.06 99.53,150.68 99.65,150.3 99.77,149.92 99.89,149.53 100,149.15 100.12,148.77 100.23,148.38 100.34,148 100.45,147.61 100.55,147.22 100.66,146.84 100.76,146.45 100.86,146.06 100.97,145.67 101.06,145.29 101.16,144.9 101.26,144.51 101.35,144.12 101.45,143.73 101.54,143.34 101.63,142.95 101.72,142.56 101.81,142.16 101.89,141.77 101.98,141.38 102.06,140.99 102.15,140.59 102.23,140.2 102.31,139.81 102.39,139.41 102.47,139.02 102.55,138.63 102.63,138.23 102.7,137.84 102.78,137.44 102.85,137.05 102.93,136.65 103,136.26 103.08,135.86 103.15,135.47 103.22,135.07 103.29,134.67 103.36,134.28 103.43,133.88 103.5,133.49 103.57,133.09 103.64,132.69 103.7,132.3 103.77,131.9 103.84,131.5 103.91,131.11 103.97,130.71 104.04,130.31 104.11,129.92 104.17,129.52 104.24,129.13 104.3,128.73 104.37,128.33 104.43,127.94 104.5,127.54 104.57,127.15 104.63,126.75 104.7,126.35 104.76,125.96 104.83,125.56 104.9,125.17 104.96,124.77 105.03,124.38 105.09,123.98 105.16,123.59 105.23,123.19 105.29,122.8 105.36,122.4 105.43,122.01 105.49,121.61 105.56,121.22 105.63,120.83 105.69,120.43 105.76,120.04 105.83,119.64 105.89,119.25 105.96,118.86 106.03,118.46 106.09,118.07 106.16,117.68 106.23,117.28 106.3,116.89 106.36,116.5 106.43,116.1 106.5,115.71 106.56,115.32 106.63,114.92 106.7,114.53 106.77,114.14 106.83,113.74 106.9,113.35 106.97,112.96 107.03,112.56 107.1,112.17 107.17,111.78 107.24,111.39 107.3,110.99 107.37,110.6 107.44,110.21 107.5,109.82 107.57,109.42 107.64,109.03 107.71,108.64 107.77,108.25 107.84,107.85 107.91,107.46 107.97,107.07 108.04,106.68 108.11,106.28 108.17,105.89 108.24,105.5 108.31,105.11 108.38,104.72 108.44,104.32 108.51,103.93 108.58,103.54 108.64,103.15 108.71,102.75 108.78,102.36 108.84,101.97 108.91,101.58 108.97,101.18 109.04,100.79 109.11,100.4 109.17,100.01 109.24,99.62 109.31,99.22 109.37,98.83 109.44,98.44 109.5,98.05 109.57,97.65 109.63,97.26 109.7,96.87 109.77,96.48 109.83,96.08 109.9,95.69 109.96,95.3 110.03,94.9 110.09,94.51 110.16,94.12 110.22,93.73 110.29,93.33 110.35,92.94 110.42,92.55 110.48,92.15 110.54,91.76 110.61,91.37 110.67,90.97 110.74,90.58 110.8,90.19 110.86,89.79 110.93,89.4 110.99,89.01 111.06,88.61 111.12,88.22 111.18,87.83 111.25,87.43 111.31,87.04 111.37,86.64 111.43,86.25 111.5,85.85 111.56,85.46 111.62,85.07 111.68,84.67 111.74,84.28 111.81,83.88 111.87,83.49 111.93,83.09 111.99,82.7 112.05,82.3 112.11,81.91 112.17,81.51 112.24,81.12 112.3,80.72 112.36,80.32 112.42,79.93 112.48,79.53 112.54,79.14 112.6,78.74 112.66,78.34 112.71,77.95 112.77,77.55 112.83,77.15 112.89,76.76 112.95,76.36 113.01,75.96 113.07,75.57 113.12,75.17 113.18,74.77 113.24,74.37 113.3,73.98 113.36,73.58 113.41,73.18 113.47,72.78 113.53,72.38 113.58,71.98 113.64,71.59 113.69,71.19 113.75,70.79 113.81,70.39 113.86,69.99 113.92,69.59 113.97,69.19 114.03,68.79 114.08,68.39 114.13,67.99 114.19,67.59 114.24,67.19 114.3,66.79 114.35,66.39 114.4,65.98 114.45,65.58 114.51,65.18 114.56,64.78 114.61,64.38 114.66,63.97 114.71,63.57 114.77,63.17 114.82,62.77 114.87,62.36 114.92,61.96 114.97,61.56 115.02,61.15 115.07,60.75 115.12,60.35 115.17,59.94 115.22,59.54 115.27,59.13 115.32,58.73 115.37,58.32 115.41,57.92 115.46,57.51 115.51,57.11 115.56,56.71 115.62,56.3 115.67,55.9 115.72,55.49 115.77,55.09 115.82,54.68 115.87,54.28 115.93,53.87 115.98,53.47 116.04,53.07 116.09,52.66 116.15,52.26 116.2,51.86 116.26,51.46 116.32,51.05 116.38,50.65 116.44,50.25 116.5,49.85 116.57,49.45 116.63,49.05 116.7,48.65 116.76,48.25 116.83,47.85 116.9,47.45 116.97,47.05 117.04,46.65 117.12,46.26 117.19,45.86 117.27,45.46 117.35,45.07 117.43,44.67 117.51,44.28 117.59,43.89 117.68,43.49 117.77,43.1 117.86,42.71 117.95,42.32 118.04,41.93 118.14,41.54 118.23,41.15 118.33,40.77 118.43,40.38 118.54,39.99 118.65,39.61 118.75,39.23 118.87,38.84 118.98,38.46 119.1,38.08 119.22,37.7 119.34,37.32 119.46,36.94 119.59,36.57 119.72,36.19 119.85,35.82 119.99,35.44 120.12,35.07 120.26,34.7 120.41,34.33 120.56,33.96 120.71,33.59 120.86,33.23 121.02,32.86 121.18,32.5 121.34,32.14 121.51,31.78 121.68,31.42 121.85,31.06 122.03,30.7 122.21,30.35 122.39,29.99 122.58,29.64 122.77,29.29 122.96,28.94 123.16,28.59 123.36,28.24 123.57,27.9 123.78,27.56 123.99,27.21 124.21,26.87 124.43,26.54 124.66,26.2 124.89,25.86 125.13,25.53 125.36,25.2 125.61,24.87 125.86,24.55 126.11,24.24 126.37,23.94 126.63,23.65 126.9,23.37 127.17,23.1 127.45,22.86 127.74,22.62 128.03,22.41 128.33,22.22 128.63,22.06 128.94,21.91 129.26,21.8 129.58,21.71 129.91,21.65 130.25,21.62 130.6,21.62 130.95,21.66 131.31,21.73 131.67,21.82 132.03,21.94 132.4,22.08 132.76,22.24 133.12,22.41 133.47,22.6 133.82,22.8 134.16,23.01 134.49,23.22 134.82,23.45 135.13,23.68 135.44,23.91 135.74,24.16 136.04,24.41 136.32,24.67 136.6,24.94 136.88,25.21 137.14,25.49 137.4,25.77 137.66,26.06 137.91,26.36 138.15,26.66 138.38,26.97 138.61,27.28 138.83,27.6 139.05,27.92 139.26,28.25 139.47,28.59 139.67,28.93 139.87,29.27 140.06,29.62 140.24,29.97 140.42,30.33 140.6,30.69 140.77,31.05 140.94,31.42 141.1,31.79 141.26,32.17 141.42,32.55 141.57,32.93 141.72,33.31 141.86,33.7 142,34.09 142.14,34.48 142.27,34.88 142.4,35.27 142.53,35.67 142.65,36.07 142.78,36.48 142.9,36.88 143.01,37.29 143.13,37.7 143.24,38.1 143.35,38.51 143.46,38.92 143.57,39.33 143.67,39.75 143.78,40.16 143.88,40.57 143.98,40.98 144.08,41.4 144.18,41.81 144.28,42.22 144.37,42.63 144.47,43.04 144.57,43.45 144.66,43.86 144.76,44.27 144.85,44.68 144.95,45.08 145.04,45.49 145.13,45.9 145.23,46.3 145.32,46.7 145.41,47.11 145.5,47.51 145.59,47.91 145.69,48.31 145.78,48.71 145.87,49.11 145.96,49.51 146.05,49.91 146.14,50.31 146.23,50.71 146.32,51.1 146.4,51.5 146.49,51.89 146.58,52.29 146.67,52.68 146.76,53.08 146.84,53.47 146.93,53.86 147.02,54.26 147.11,54.65 147.19,55.04 147.28,55.43 147.37,55.82 147.45,56.21 147.54,56.6 147.63,56.99 147.71,57.38 147.8,57.77 147.88,58.15 147.97,58.54 148.06,58.93 148.14,59.32 148.23,59.7 148.31,60.09 148.4,60.47 148.48,60.86 148.57,61.24 148.66,61.63 148.74,62.01 148.83,62.4 148.91,62.78 149,63.17 149.08,63.55 149.17,63.93 149.26,64.32 149.34,64.7 149.43,65.08 149.52,65.47 149.6,65.85 149.69,66.23 149.77,66.62 149.86,67 149.95,67.38 150.04,67.76 150.12,68.15 150.21,68.53 150.3,68.91 150.39,69.29 150.47,69.67 150.56,70.06 150.65,70.44 150.74,70.82 150.83,71.2 150.92,71.59 151.01,71.97 151.1,72.35 151.19,72.73 151.28,73.12 151.37,73.5 151.46,73.88 151.55,74.26 151.64,74.65 151.74,75.03 151.83,75.41 151.92,75.8 152.01,76.18 152.11,76.56 152.2,76.95 152.29,77.33 152.39,77.71 152.48,78.1 152.58,78.48 152.67,78.86 152.77,79.25 152.87,79.63 152.96,80.02 153.06,80.4 153.16,80.78 153.26,81.17 153.35,81.55 153.45,81.94 153.55,82.32 153.65,82.71 153.75,83.09 153.85,83.47 153.95,83.86 154.05,84.24 154.15,84.63 154.26,85.01 154.36,85.4 154.46,85.78 154.56,86.17 154.67,86.55 154.77,86.94 154.87,87.32 154.98,87.7 155.08,88.09 155.19,88.47 155.3,88.86 155.4,89.24 155.51,89.63 155.62,90.01 155.72,90.4 155.83,90.78 155.94,91.17 156.05,91.55 156.16,91.93 156.27,92.32 156.38,92.7 156.49,93.09 156.6,93.47 156.71,93.86 156.83,94.24 156.94,94.62 157.05,95.01 157.17,95.39 157.28,95.78 157.39,96.16 157.51,96.54 157.63,96.93 157.74,97.31 157.86,97.69 157.98,98.08 158.09,98.46 158.21,98.84 158.33,99.23 158.45,99.61 158.57,99.99 158.69,100.38 158.81,100.76 158.93,101.14 159.05,101.53 159.18,101.91 159.3,102.29 159.42,102.67 159.55,103.06 159.67,103.44 159.8,103.82 159.92,104.2 160.05,104.58 160.18,104.96 160.3,105.35 160.43,105.73 160.56,106.11 160.69,106.49 160.82,106.87 160.95,107.25 161.08,107.63 161.21,108.01 161.34,108.39 161.48,108.77 161.61,109.15 161.74,109.53 161.88,109.91 162.01,110.29 162.15,110.67 162.29,111.05 162.42,111.43 162.56,111.81 162.7,112.19 162.84,112.57 162.98,112.94 163.12,113.32 163.26,113.7 163.4,114.08 163.54,114.46 163.68,114.83 163.82,115.21 163.97,115.59 164.11,115.96 164.26,116.34 164.4,116.72 164.55,117.09 164.7,117.47 164.84,117.84 164.99,118.22 165.14,118.6 165.29,118.97 165.44,119.35 165.59,119.72 165.74,120.09 165.9,120.47 166.05,120.84 166.2,121.22 166.36,121.59 166.51,121.96 166.67,122.33 166.83,122.71 166.98,123.08 167.14,123.45 167.3,123.82 167.46,124.19 167.62,124.56 167.78,124.94 167.94,125.31 168.1,125.68 168.27,126.05 168.43,126.42 168.59,126.79 168.76,127.15 168.92,127.52 169.09,127.89 169.26,128.26 169.43,128.63 169.59,129 169.76,129.36 169.93,129.73 170.11,130.1 170.28,130.46 170.45,130.83 170.62,131.19 170.8,131.56 170.97,131.92 171.15,132.29 171.33,132.65 171.5,133.01 171.68,133.38 171.86,133.74 172.05,134.1 172.23,134.46 172.41,134.82 172.6,135.18 172.78,135.53 172.97,135.89 173.16,136.25 173.35,136.6 173.54,136.96 173.73,137.31 173.92,137.66 174.12,138.02 174.31,138.37 174.51,138.72 174.71,139.06 174.91,139.41 175.11,139.76 175.31,140.1 175.52,140.45 175.72,140.79 175.93,141.13 176.14,141.47 176.35,141.81 176.56,142.14 176.77,142.48 176.99,142.81 177.21,143.15 177.43,143.48 177.65,143.81 177.87,144.14 178.09,144.46 178.32,144.79 178.55,145.11 178.78,145.43 179.01,145.76 179.24,146.07 179.48,146.39 179.71,146.71 179.95,147.02 180.19,147.33 180.44,147.64 180.68,147.95 180.93,148.25 181.18,148.56 181.43,148.86 181.69,149.16 181.94,149.46 182.2,149.75 182.46,150.04 182.72,150.34 182.99,150.63 183.26,150.91 183.53,151.2 183.8,151.48 184.07,151.76 184.35,152.04 184.63,152.31 184.91,152.59 185.19,152.86 185.48,153.13 185.77,153.39 186.06,153.66 186.36,153.92 186.65,154.17 186.95,154.43 187.26,154.68 187.56,154.93 187.87,155.18 188.18,155.43 188.49,155.67 188.81,155.91 189.13,156.15 189.45,156.38 189.77,156.61 190.1,156.84 190.43,157.07 190.76,157.29 191.1,157.51 191.44,157.72 191.78,157.94 192.12,158.15 192.47,158.36 192.82,158.56 193.18,158.76 193.53,158.96 193.89,159.15 194.26,159.34 194.62,159.53 194.99,159.72 195.37,159.9 195.74,160.08 196.12,160.25 196.51,160.42 196.89,160.59 197.28,160.76 197.68,160.92 198.07,161.07 198.47,161.23 198.88,161.38" fill="none" stroke="#c08de6" stroke-width="1.4" stroke-linejoin="round" stroke-linecap="round"/>
<line x1="259.65" y1="180.7" x2="442.4" y2="180.7" stroke="#585858" stroke-width="1.25"/>
<line x1="260.2" y1="180.7" x2="260.2" y2="183.7" stroke="#555" stroke-width="1.1"/>
<text x="260.2" y="195.5" font-size="12.45" text-anchor="middle">300</text>
<line x1="290.47" y1="180.7" x2="290.47" y2="182.3" stroke="#555" stroke-width="1.1"/>
<line x1="320.75" y1="180.7" x2="320.75" y2="183.7" stroke="#555" stroke-width="1.1"/>
<text x="320.75" y="195.5" font-size="12.45" text-anchor="middle">400</text>
<line x1="351.02" y1="180.7" x2="351.02" y2="182.3" stroke="#555" stroke-width="1.1"/>
<line x1="381.3" y1="180.7" x2="381.3" y2="183.7" stroke="#555" stroke-width="1.1"/>
<text x="381.3" y="195.5" font-size="12.45" text-anchor="middle">500</text>
<line x1="411.57" y1="180.7" x2="411.57" y2="182.3" stroke="#555" stroke-width="1.1"/>
<line x1="441.85" y1="180.7" x2="441.85" y2="183.7" stroke="#555" stroke-width="1.1"/>
<text x="441.85" y="195.5" font-size="12.45" text-anchor="middle">600</text>
<text x="351.02" y="214.2" font-size="12.9" text-anchor="middle">Wavelength (nm)</text>
<line x1="355.6" y1="15.7" x2="369" y2="15.7" stroke="#e03a3a" stroke-width="1.5"/>
<line x1="355.6" y1="29.4" x2="369" y2="29.4" stroke="#2424e0" stroke-width="1.5"/>
<text x="378.5" y="19.7" font-size="11.3">PPV-Excitation</text>
<text x="378.5" y="33.5" font-size="11.3">LCD-Emission</text>
<polyline points="260.2,173.2 260.7,173.05 261.2,172.9 261.7,172.77 262.2,172.65 262.71,172.54 263.21,172.45 263.71,172.38 264.21,172.33 264.71,172.3 265.21,172.3 265.71,172.32 266.21,172.34 266.72,172.38 267.22,172.42 267.72,172.47 268.22,172.51 268.72,172.55 269.22,172.58 269.72,172.6 270.22,172.6 270.73,172.6 271.23,172.59 271.73,172.58 272.23,172.57 272.73,172.56 273.23,172.55 273.73,172.54 274.23,172.52 274.74,172.51 275.24,172.49 275.74,172.48 276.24,172.46 276.74,172.45 277.24,172.44 277.74,172.43 278.24,172.42 278.75,172.41 279.25,172.4 279.75,172.4 280.25,172.4 280.75,172.4 281.25,172.4 281.75,172.4 282.25,172.4 282.76,172.4 283.26,172.4 283.76,172.4 284.26,172.4 284.76,172.4 285.26,172.4 285.76,172.41 286.26,172.42 286.77,172.43 287.27,172.44 287.77,172.46 288.27,172.48 288.77,172.5 289.27,172.52 289.77,172.54 290.27,172.56 290.78,172.58 291.28,172.59 291.78,172.6 292.28,172.6 292.78,172.58 293.28,172.52 293.78,172.41 294.28,172.26 294.79,172.08 295.29,171.86 295.79,171.46 296.29,170.91 296.79,170.21 297.29,169.23 297.79,167.81 298.29,166.03 298.8,163.92 299.3,161.08 299.8,157.55 300.3,153.47 300.8,149 301.3,144.2 301.8,138.47 302.3,131.96 302.8,125.01 303.31,118 303.81,111.2 304.31,104.24 304.81,97.13 305.31,90.04 305.81,83.13 306.31,76.47 306.81,69.71 307.32,63.03 307.82,56.78 308.32,51.32 308.82,46.75 309.32,42.44 309.82,38.43 310.32,34.78 310.82,31.58 311.33,28.9 311.83,26.82 312.33,24.99 312.83,23.32 313.33,21.86 313.83,20.67 314.33,19.8 314.83,19.29 315.34,18.93 315.84,18.61 316.34,18.37 316.84,18.23 317.34,18.21 317.84,18.32 318.34,18.56 318.84,18.92 319.35,19.36 319.85,19.87 320.35,20.44 320.85,21.04 321.35,21.78 321.85,22.8 322.35,24.05 322.85,25.48 323.36,27.04 323.86,28.67 324.36,30.31 324.86,31.96 325.36,33.72 325.86,35.61 326.36,37.6 326.86,39.68 327.37,41.82 327.87,44 328.37,46.2 328.87,48.47 329.37,50.82 329.87,53.24 330.37,55.72 330.87,58.24 331.38,60.79 331.88,63.36 332.38,65.93 332.88,68.58 333.38,71.27 333.88,73.99 334.38,76.73 334.88,79.44 335.39,82.13 335.89,84.75 336.39,87.33 336.89,89.9 337.39,92.45 337.89,94.97 338.39,97.47 338.89,99.94 339.4,102.39 339.9,104.82 340.4,107.24 340.9,109.65 341.4,112.03 341.9,114.37 342.4,116.66 342.9,118.91 343.4,121.08 343.91,123.23 344.41,125.34 344.91,127.41 345.41,129.43 345.91,131.4 346.41,133.31 346.91,135.15 347.41,136.95 347.92,138.74 348.42,140.5 348.92,142.23 349.42,143.91 349.92,145.54 350.42,147.1 350.92,148.58 351.42,149.97 351.93,151.26 352.43,152.49 352.93,153.68 353.43,154.82 353.93,155.93 354.43,156.97 354.93,157.97 355.43,158.9 355.94,159.77 356.44,160.57 356.94,161.29 357.44,161.97 357.94,162.61 358.44,163.22 358.94,163.79 359.44,164.33 359.95,164.84 360.45,165.32 360.95,165.78 361.45,166.21 361.95,166.62 362.45,167.02 362.95,167.4 363.45,167.76 363.96,168.11 364.46,168.43 364.96,168.73 365.46,169 365.96,169.24 366.46,169.45 366.96,169.66 367.46,169.85 367.97,170.04 368.47,170.22 368.97,170.38 369.47,170.54 369.97,170.68 370.47,170.82 370.97,170.94 371.47,171.06 371.98,171.16 372.48,171.25 372.98,171.34 373.48,171.43 373.98,171.52 374.48,171.61 374.98,171.69 375.48,171.77 375.99,171.85 376.49,171.93 376.99,172 377.49,172.07 377.99,172.13 378.49,172.19 378.99,172.24 379.49,172.28 380,172.32 380.5,172.35 381,172.38 381.5,172.39 382,172.4" fill="none" stroke="#e03a3a" stroke-width="1.3" stroke-linejoin="round" stroke-linecap="round"/>
<polyline points="290.9,166.4 291.4,166.53 291.9,166.63 292.4,166.7 292.9,166.75 293.4,166.78 293.9,166.79 294.4,166.8 294.9,166.8 295.4,166.72 295.9,166.51 296.4,166.18 296.9,165.77 297.4,165.3 297.9,164.8 298.4,164.29 298.91,163.79 299.41,163.21 299.91,162.56 300.41,161.84 300.91,161.06 301.41,160.22 301.91,159.33 302.41,158.39 302.91,157.37 303.41,156.24 303.91,155.01 304.41,153.7 304.91,152.3 305.41,150.83 305.91,149.3 306.41,147.68 306.91,145.9 307.41,143.98 307.91,141.95 308.41,139.83 308.91,137.67 309.41,135.49 309.91,133.31 310.41,131.11 310.91,128.86 311.41,126.56 311.91,124.21 312.41,121.83 312.91,119.4 313.41,116.92 313.92,114.4 314.42,111.79 314.92,109.12 315.42,106.41 315.92,103.67 316.42,100.94 316.92,98.22 317.42,95.53 317.92,92.84 318.42,90.14 318.92,87.43 319.42,84.74 319.92,82.06 320.42,79.41 320.92,76.8 321.42,74.19 321.92,71.57 322.42,68.97 322.92,66.4 323.42,63.88 323.92,61.44 324.42,59.1 324.92,56.87 325.42,54.68 325.92,52.55 326.42,50.47 326.92,48.46 327.42,46.51 327.92,44.63 328.42,42.82 328.93,41.08 329.43,39.39 329.93,37.75 330.43,36.16 330.93,34.62 331.43,33.14 331.93,31.71 332.43,30.33 332.93,29 333.43,27.68 333.93,26.4 334.43,25.19 334.93,24.08 335.43,23.1 335.93,22.25 336.43,21.44 336.93,20.71 337.43,20.1 337.93,19.65 338.43,19.32 338.93,19.01 339.43,18.73 339.93,18.51 340.43,18.36 340.93,18.3 341.43,18.33 341.93,18.43 342.43,18.6 342.93,18.81 343.43,19.06 343.93,19.34 344.44,19.62 344.94,20 345.44,20.51 345.94,21.1 346.44,21.72 346.94,22.31 347.44,22.84 347.94,23.31 348.44,23.77 348.94,24.24 349.44,24.75 349.94,25.32 350.44,26 350.94,26.77 351.44,27.62 351.94,28.53 352.44,29.5 352.94,30.5 353.44,31.53 353.94,32.56 354.44,33.59 354.94,34.63 355.44,35.7 355.94,36.8 356.44,37.94 356.94,39.09 357.44,40.26 357.94,41.45 358.44,42.64 358.94,43.85 359.45,45.05 359.95,46.25 360.45,47.44 360.95,48.64 361.45,49.86 361.95,51.1 362.45,52.37 362.95,53.68 363.45,55.04 363.95,56.46 364.45,57.95 364.95,59.54 365.45,61.23 365.95,62.97 366.45,64.77 366.95,66.59 367.45,68.42 367.95,70.24 368.45,72.03 368.95,73.76 369.45,75.44 369.95,77.09 370.45,78.74 370.95,80.37 371.45,81.99 371.95,83.6 372.45,85.19 372.95,86.76 373.45,88.32 373.95,89.85 374.46,91.37 374.96,92.88 375.46,94.4 375.96,95.9 376.46,97.39 376.96,98.86 377.46,100.3 377.96,101.69 378.46,103.05 378.96,104.35 379.46,105.59 379.96,106.78 380.46,107.94 380.96,109.07 381.46,110.17 381.96,111.25 382.46,112.3 382.96,113.33 383.46,114.35 383.96,115.35 384.46,116.35 384.96,117.34 385.46,118.33 385.96,119.31 386.46,120.27 386.96,121.22 387.46,122.16 387.96,123.09 388.46,124.01 388.96,124.92 389.47,125.82 389.97,126.72 390.47,127.61 390.97,128.49 391.47,129.37 391.97,130.24 392.47,131.11 392.97,131.98 393.47,132.84 393.97,133.69 394.47,134.54 394.97,135.38 395.47,136.21 395.97,137.03 396.47,137.84 396.97,138.65 397.47,139.44 397.97,140.22 398.47,141 398.97,141.77 399.47,142.53 399.97,143.29 400.47,144.04 400.97,144.79 401.47,145.53 401.97,146.26 402.47,146.98 402.97,147.7 403.47,148.41 403.97,149.11 404.47,149.81 404.98,150.49 405.48,151.17 405.98,151.84 406.48,152.52 406.98,153.22 407.48,153.89 407.98,154.53 408.48,155.1 408.98,155.58 409.48,155.99 409.98,156.37 410.48,156.72 410.98,157.05 411.48,157.35 411.98,157.63 412.48,157.89 412.98,158.14 413.48,158.37 413.98,158.59 414.48,158.78 414.98,158.97 415.48,159.15 415.98,159.32 416.48,159.5 416.98,159.67 417.48,159.85 417.98,160.04 418.48,160.23 418.98,160.45 419.48,160.69 419.99,160.96 420.49,161.26 420.99,161.57 421.49,161.88 421.99,162.19 422.49,162.48 422.99,162.75 423.49,162.98 423.99,163.17 424.49,163.31 424.99,163.44 425.49,163.57 425.99,163.68 426.49,163.79 426.99,163.88 427.49,163.97 427.99,164.05 428.49,164.12 428.99,164.18 429.49,164.23 429.99,164.28 430.49,164.33 430.99,164.37 431.49,164.42 431.99,164.46 432.49,164.49 432.99,164.53 433.49,164.55 433.99,164.57 434.49,164.59 435,164.6 435.5,164.6 436,164.6 436.5,164.6 437,164.6 437.5,164.6 438,164.6 438.5,164.6 439,164.6 439.5,164.6 440,164.6 440.5,164.6 441,164.6 441.5,164.6 442,164.6 442.5,164.6" fill="none" stroke="#2424e0" stroke-width="1.3" stroke-linejoin="round" stroke-linecap="round"/>
<line x1="483.2" y1="180.7" x2="681.4" y2="180.7" stroke="#999" stroke-width="1.5"/>
<line x1="483.7" y1="180.7" x2="483.7" y2="182.1" stroke="#555" stroke-width="1.1"/>
<line x1="508.35" y1="180.7" x2="508.35" y2="183.5" stroke="#555" stroke-width="1.1"/>
<text x="508.35" y="195.6" font-size="12.45" text-anchor="middle">400</text>
<line x1="533" y1="180.7" x2="533" y2="182.1" stroke="#555" stroke-width="1.1"/>
<line x1="557.65" y1="180.7" x2="557.65" y2="183.5" stroke="#555" stroke-width="1.1"/>
<text x="557.65" y="195.6" font-size="12.45" text-anchor="middle">500</text>
<line x1="582.3" y1="180.7" x2="582.3" y2="182.1" stroke="#555" stroke-width="1.1"/>
<line x1="606.95" y1="180.7" x2="606.95" y2="183.5" stroke="#555" stroke-width="1.1"/>
<text x="606.95" y="195.6" font-size="12.45" text-anchor="middle">600</text>
<line x1="631.6" y1="180.7" x2="631.6" y2="182.1" stroke="#555" stroke-width="1.1"/>
<line x1="656.25" y1="180.7" x2="656.25" y2="183.5" stroke="#555" stroke-width="1.1"/>
<text x="656.25" y="195.6" font-size="12.45" text-anchor="middle">700</text>
<line x1="680.9" y1="180.7" x2="680.9" y2="182.1" stroke="#555" stroke-width="1.1"/>
<text x="582.3" y="214.2" font-size="12.9" text-anchor="middle">Wavelength (nm)</text>
<text x="604.3" y="21.8" font-size="12.9"><tspan fill="#2a2ad8" stroke="#2a2ad8">LCD</tspan> + <tspan fill="#e03030" stroke="#e03030">PPV</tspan></text>
<text x="617.2" y="92.2" font-size="12.8">CRET</text>
<path d="M588,98h1v1h-1zM588,163h1v1h-1zM590,98h1v1h-1zM590,163h1v1h-1zM592,98h1v1h-1zM592,163h1v1h-1zM594,98h1v1h-1zM594,163h1v1h-1zM596,98h1v1h-1zM596,163h1v1h-1zM598,98h1v1h-1zM598,163h1v1h-1zM600,98h1v1h-1zM600,163h1v1h-1zM602,98h1v1h-1zM602,163h1v1h-1zM604,98h1v1h-1zM604,163h1v1h-1zM606,98h1v1h-1zM606,163h1v1h-1zM608,98h1v1h-1zM608,163h1v1h-1zM610,98h1v1h-1zM610,163h1v1h-1zM612,98h1v1h-1zM612,163h1v1h-1zM614,98h1v1h-1zM614,163h1v1h-1zM616,98h1v1h-1zM616,163h1v1h-1zM618,98h1v1h-1zM618,163h1v1h-1zM620,98h1v1h-1zM620,163h1v1h-1zM622,98h1v1h-1zM622,163h1v1h-1zM624,98h1v1h-1zM624,163h1v1h-1zM626,98h1v1h-1zM626,163h1v1h-1zM628,98h1v1h-1zM628,163h1v1h-1zM630,98h1v1h-1zM630,163h1v1h-1zM632,98h1v1h-1zM632,163h1v1h-1zM634,98h1v1h-1zM634,163h1v1h-1zM636,98h1v1h-1zM636,163h1v1h-1zM638,98h1v1h-1zM638,163h1v1h-1zM640,98h1v1h-1zM640,163h1v1h-1zM642,98h1v1h-1zM642,163h1v1h-1zM644,98h1v1h-1zM644,163h1v1h-1zM646,98h1v1h-1zM646,163h1v1h-1zM648,98h1v1h-1zM648,163h1v1h-1zM650,98h1v1h-1zM650,163h1v1h-1zM652,98h1v1h-1zM652,163h1v1h-1zM654,98h1v1h-1zM654,163h1v1h-1zM656,98h1v1h-1zM656,163h1v1h-1zM658,98h1v1h-1zM658,163h1v1h-1zM660,98h1v1h-1zM660,163h1v1h-1zM662,98h1v1h-1zM662,163h1v1h-1zM664,98h1v1h-1zM664,163h1v1h-1zM666,98h1v1h-1zM666,163h1v1h-1zM668,98h1v1h-1zM668,163h1v1h-1zM670,98h1v1h-1zM670,163h1v1h-1zM672,98h1v1h-1zM672,163h1v1h-1zM674,98h1v1h-1zM674,163h1v1h-1zM676,98h1v1h-1zM676,163h1v1h-1zM678,98h1v1h-1zM678,163h1v1h-1zM680,98h1v1h-1zM680,163h1v1h-1zM682,98h1v1h-1zM682,163h1v1h-1zM588,100h1v1h-1zM682,100h1v1h-1zM588,102h1v1h-1zM682,102h1v1h-1zM588,104h1v1h-1zM682,104h1v1h-1zM588,106h1v1h-1zM682,106h1v1h-1zM588,108h1v1h-1zM682,108h1v1h-1zM588,110h1v1h-1zM682,110h1v1h-1zM588,112h1v1h-1zM682,112h1v1h-1zM588,114h1v1h-1zM682,114h1v1h-1zM588,116h1v1h-1zM682,116h1v1h-1zM588,118h1v1h-1zM682,118h1v1h-1zM588,120h1v1h-1zM682,120h1v1h-1zM588,122h1v1h-1zM682,122h1v1h-1zM588,124h1v1h-1zM682,124h1v1h-1zM588,126h1v1h-1zM682,126h1v1h-1zM588,128h1v1h-1zM682,128h1v1h-1zM588,130h1v1h-1zM682,130h1v1h-1zM588,132h1v1h-1zM682,132h1v1h-1zM588,134h1v1h-1zM682,134h1v1h-1zM588,136h1v1h-1zM682,136h1v1h-1zM588,138h1v1h-1zM682,138h1v1h-1zM588,140h1v1h-1zM682,140h1v1h-1zM588,142h1v1h-1zM682,142h1v1h-1zM588,144h1v1h-1zM682,144h1v1h-1zM588,146h1v1h-1zM682,146h1v1h-1zM588,148h1v1h-1zM682,148h1v1h-1zM588,150h1v1h-1zM682,150h1v1h-1zM588,152h1v1h-1zM682,152h1v1h-1zM588,154h1v1h-1zM682,154h1v1h-1zM588,156h1v1h-1zM682,156h1v1h-1zM588,158h1v1h-1zM682,158h1v1h-1zM588,160h1v1h-1zM682,160h1v1h-1zM588,162h1v1h-1zM682,162h1v1h-1z" fill="#e77a7a"/>
<polyline points="483.1,159.8 483.6,158.78 484.1,158.11 484.61,157.76 485.11,157.67 485.61,157.81 486.11,158.14 486.61,158.61 487.12,159.17 487.62,159.8 488.12,160.44 488.62,161.06 489.12,161.61 489.62,162.05 490.13,162.33 490.63,162.42 491.13,162.28 491.63,161.94 492.13,161.47 492.64,160.95 493.14,160.45 493.64,160.05 494.14,159.82 494.64,159.84 495.15,160.07 495.65,160.44 496.15,160.87 496.65,161.28 497.15,161.58 497.66,161.71 498.16,161.58 498.66,161.22 499.16,160.7 499.66,160.07 500.17,159.42 500.67,158.81 501.17,158.31 501.67,157.97 502.17,157.74 502.67,157.51 503.18,157.18 503.68,156.62 504.18,155.73 504.68,154.4 505.18,152.55 505.69,150.1 506.19,146.95 506.69,143.05 507.19,138.46 507.69,133.37 508.2,128 508.7,122.53 509.2,117.17 509.7,112.1 510.2,107.38 510.71,102.92 511.21,98.66 511.71,94.53 512.21,90.45 512.71,86.35 513.21,82.16 513.72,77.9 514.22,73.64 514.72,69.45 515.22,65.4 515.72,61.58 516.23,58.04 516.73,54.87 517.23,52.04 517.73,49.51 518.23,47.22 518.74,45.11 519.24,43.12 519.74,41.21 520.24,39.31 520.74,37.42 521.25,35.58 521.75,33.82 522.25,32.18 522.75,30.68 523.25,29.35 523.76,28.23 524.26,27.34 524.76,26.7 525.26,26.31 525.76,26.2 526.26,26.37 526.77,26.8 527.27,27.46 527.77,28.33 528.27,29.38 528.77,30.6 529.28,31.99 529.78,33.55 530.28,35.27 530.78,37.16 531.28,39.22 531.79,41.44 532.29,43.81 532.79,46.27 533.29,48.78 533.79,51.27 534.3,53.7 534.8,56.01 535.3,58.16 535.8,60.11 536.3,61.88 536.8,63.46 537.31,64.86 537.81,66.08 538.31,67.18 538.81,68.22 539.31,69.28 539.82,70.44 540.32,71.76 540.82,73.31 541.32,75.06 541.82,76.97 542.33,78.96 542.83,81 543.33,83.02 543.83,84.99 544.33,86.9 544.84,88.77 545.34,90.58 545.84,92.36 546.34,94.09 546.84,95.78 547.34,97.43 547.85,99.04 548.35,100.6 548.85,102.1 549.35,103.53 549.85,104.9 550.36,106.19 550.86,107.42 551.36,108.59 551.86,109.73 552.36,110.86 552.87,112.01 553.37,113.19 553.87,114.43 554.37,115.73 554.87,117.1 555.38,118.55 555.88,120.07 556.38,121.65 556.88,123.31 557.38,125.04 557.89,126.82 558.39,128.58 558.89,130.28 559.39,131.85 559.89,133.23 560.39,134.36 560.9,135.18 561.4,135.7 561.9,135.99 562.4,136.12 562.9,136.18 563.41,136.25 563.91,136.4 564.41,136.72 564.91,137.21 565.41,137.81 565.92,138.49 566.42,139.2 566.92,139.89 567.42,140.51 567.92,141.01 568.43,141.42 568.93,141.78 569.43,142.16 569.93,142.6 570.43,143.17 570.93,143.91 571.44,144.87 571.94,146 572.44,147.16 572.94,148.24 573.44,149.11 573.95,149.63 574.45,149.75 574.95,149.56 575.45,149.19 575.95,148.78 576.46,148.4 576.96,148.07 577.46,147.77 577.96,147.51 578.46,147.26 578.97,147.05 579.47,146.92 579.97,147.01 580.47,147.4 580.97,148.22 581.48,149.57 581.98,151.52 582.48,153.81 582.98,156.03 583.48,157.79 583.98,159.04 584.49,159.87 584.99,160.41 585.49,160.76 585.99,161.02 586.49,161.31 587,161.73 587.5,162.39 588,163.4" fill="none" stroke="#2a2ad8" stroke-width="1.3" stroke-linejoin="round" stroke-linecap="round"/>
<polyline points="588,163.4 588.5,164.05 589,164.39 589.51,164.48 590.01,164.36 590.51,164.05 591.01,163.62 591.51,163.08 592.02,162.5 592.52,161.9 593.02,161.33 593.52,160.84 594.03,160.45 594.53,160.22 595.03,160.17 595.53,160.31 596.03,160.6 596.54,161.04 597.04,161.57 597.54,162.08 598.04,162.39 598.54,162.34 599.05,161.87 599.55,161.07 600.05,160.06 600.55,158.96 601.06,157.86 601.56,156.9 602.06,156.14 602.56,155.54 603.06,155.03 603.57,154.54 604.07,154.02 604.57,153.4 605.07,152.63 605.57,151.69 606.08,150.56 606.58,149.24 607.08,147.73 607.58,146.05 608.09,144.3 608.59,142.57 609.09,140.93 609.59,139.46 610.09,138.09 610.6,136.74 611.1,135.35 611.6,133.82 612.1,132.07 612.6,130.04 613.11,127.79 613.61,125.41 614.11,123.02 614.61,120.71 615.12,118.6 615.62,116.79 616.12,115.28 616.62,114.03 617.12,112.98 617.63,112.07 618.13,111.26 618.63,110.5 619.13,109.77 619.63,109.08 620.14,108.45 620.64,107.89 621.14,107.41 621.64,107.03 622.15,106.72 622.65,106.44 623.15,106.14 623.65,105.78 624.15,105.31 624.66,104.69 625.16,103.91 625.66,103.08 626.16,102.32 626.66,101.72 627.17,101.41 627.67,101.47 628.17,101.95 628.67,102.75 629.18,103.78 629.68,104.9 630.18,105.99 630.68,106.9 631.18,107.49 631.69,107.8 632.19,107.97 632.69,108.18 633.19,108.58 633.69,109.3 634.2,110.36 634.7,111.67 635.2,113.16 635.7,114.75 636.21,116.37 636.71,117.91 637.21,119.28 637.71,120.38 638.21,121.12 638.72,121.52 639.22,121.7 639.72,121.74 640.22,121.76 640.72,121.86 641.23,122.08 641.73,122.4 642.23,122.79 642.73,123.23 643.24,123.68 643.74,124.12 644.24,124.53 644.74,124.95 645.24,125.4 645.75,125.9 646.25,126.48 646.75,127.18 647.25,128 647.75,128.94 648.26,129.98 648.76,131.12 649.26,132.34 649.76,133.6 650.27,134.85 650.77,136.01 651.27,137.04 651.77,137.89 652.27,138.59 652.78,139.19 653.28,139.74 653.78,140.31 654.28,140.91 654.78,141.56 655.29,142.27 655.79,143.02 656.29,143.84 656.79,144.69 657.3,145.54 657.8,146.37 658.3,147.15 658.8,147.84 659.3,148.4 659.81,148.79 660.31,148.99 660.81,148.94 661.31,148.69 661.81,148.3 662.32,147.85 662.82,147.42 663.32,147.08 663.82,146.91 664.33,146.92 664.83,147.09 665.33,147.4 665.83,147.83 666.33,148.34 666.84,148.85 667.34,149.29 667.84,149.55 668.34,149.58 668.84,149.37 669.35,149.05 669.85,148.74 670.35,148.57 670.85,148.66 671.36,149.06 671.86,149.67 672.36,150.39 672.86,151.13 673.36,151.8 673.87,152.36 674.37,152.75 674.87,152.94 675.37,152.92 675.87,152.77 676.38,152.58 676.88,152.43 677.38,152.41 677.88,152.55 678.39,152.85 678.89,153.24 679.39,153.7 679.89,154.18 680.39,154.64 680.9,155.04 681.4,155.34 681.9,155.5" fill="none" stroke="#e03030" stroke-width="1.3" stroke-linejoin="round" stroke-linecap="round"/>
<defs><filter id="tn" x="0" y="0" width="100%" height="100%" color-interpolation-filters="sRGB"><feTurbulence type="fractalNoise" baseFrequency="0.4" numOctaves="3" seed="5"/><feColorMatrix type="matrix" values="0.34 0 0 0 0.525  0.34 0 0 0 0.525  0.34 0 0 0 0.525  0 0 0 0 1"/><feGaussianBlur stdDeviation="0.45"/></filter><filter id="tn2" x="0" y="0" width="100%" height="100%" color-interpolation-filters="sRGB"><feTurbulence type="fractalNoise" baseFrequency="0.05" numOctaves="2" seed="9"/><feColorMatrix type="matrix" values="0 0 0 0 1  0 0 0 0 1  0 0 0 0 1  0.5 0 0 0 -0.2"/></filter><filter id="pb" x="-20%" y="-20%" width="140%" height="140%"><feGaussianBlur stdDeviation="0.7"/></filter><filter id="hb" x="-20%" y="-20%" width="140%" height="140%"><feGaussianBlur stdDeviation="0.9"/></filter><radialGradient id="pg1"><stop offset="0" stop-color="#161616"/><stop offset="0.85" stop-color="#1b1b1b"/><stop offset="1" stop-color="#262626"/></radialGradient><radialGradient id="pg3" cx="0.55" cy="0.5"><stop offset="0" stop-color="#262626"/><stop offset="0.35" stop-color="#313131"/><stop offset="0.8" stop-color="#3a3a3a"/><stop offset="1" stop-color="#444"/></radialGradient><linearGradient id="dls" x1="0" y1="0" x2="0" y2="1"><stop offset="0" stop-color="#2c4546"/><stop offset="0.08" stop-color="#375c5d"/><stop offset="0.15" stop-color="#447e80"/><stop offset="0.24" stop-color="#5cb0b2"/><stop offset="0.33" stop-color="#72dfe2"/><stop offset="0.42" stop-color="#80f8fb"/><stop offset="0.55" stop-color="#7ef4f7"/><stop offset="0.67" stop-color="#70dfe1"/><stop offset="0.78" stop-color="#5fb4b5"/><stop offset="0.88" stop-color="#4e8485"/><stop offset="0.95" stop-color="#43595a"/><stop offset="1" stop-color="#3b4344"/></linearGradient></defs>
<rect x="20" y="245.1" width="203.3" height="202.8" fill="#bbb"/>
<rect x="20" y="245.1" width="203.3" height="202.8" filter="url(#tn)"/>
<rect x="20" y="245.1" width="203.3" height="202.8" filter="url(#tn2)" opacity="0.25"/>
<g filter="url(#hb)" fill="none" stroke="#f4f4f4" stroke-width="2" opacity="1"><circle cx="111.5" cy="260" r="12.6"/><circle cx="131.5" cy="345.2" r="11.6"/><path d="M121.5,413.5 A12.9,12.9 0 1 0 144.5,414 M121,406 A11.8,11.8 0 0 1 106,398"/></g>
<g filter="url(#pb)"><line x1="117.6" y1="402.4" x2="133" y2="420.4" stroke="#383838" stroke-width="12"/><circle cx="111.3" cy="259.7" r="11.8" fill="url(#pg1)"/><circle cx="131.3" cy="344.9" r="10.8" fill="url(#pg1)"/><ellipse cx="117.6" cy="402.4" rx="11.1" ry="10.7" fill="url(#pg3)"/><circle cx="133" cy="420.4" r="12.4" fill="url(#pg1)"/></g>
<circle cx="118.8" cy="402" r="2.6" fill="#1e1e1e" filter="url(#hb)"/>
<clipPath id="pc"><circle cx="111.3" cy="259.7" r="11.3"/><circle cx="131.3" cy="344.9" r="10.3"/><ellipse cx="117.6" cy="402.4" rx="10.6" ry="10.2"/><circle cx="133" cy="420.4" r="11.9"/></clipPath>
<rect x="20" y="245.1" width="203.3" height="202.8" filter="url(#tn)" clip-path="url(#pc)" opacity="0.06"/>
<rect x="182.8" y="439.5" width="20.1" height="4.9" fill="#000"/>
<text x="171.3" y="434.8" font-size="12.6" fill="#000">200 nm</text>
<line x1="290.6" y1="251.5" x2="290.6" y2="415.8" stroke="#555" stroke-width="1.2"/>
<line x1="290.1" y1="415.3" x2="444.3" y2="415.3" stroke="#555" stroke-width="1.2"/>
<line x1="287.6" y1="415.3" x2="290.6" y2="415.3" stroke="#555" stroke-width="1.1"/>
<text x="285.6" y="419.6" font-size="12.45" text-anchor="end">0</text>
<line x1="289" y1="398.92" x2="290.6" y2="398.92" stroke="#555" stroke-width="1.1"/>
<line x1="287.6" y1="382.54" x2="290.6" y2="382.54" stroke="#555" stroke-width="1.1"/>
<text x="285.6" y="386.84" font-size="12.45" text-anchor="end">5</text>
<line x1="289" y1="366.16" x2="290.6" y2="366.16" stroke="#555" stroke-width="1.1"/>
<line x1="287.6" y1="349.78" x2="290.6" y2="349.78" stroke="#555" stroke-width="1.1"/>
<text x="285.6" y="354.08" font-size="12.45" text-anchor="end">10</text>
<line x1="289" y1="333.4" x2="290.6" y2="333.4" stroke="#555" stroke-width="1.1"/>
<line x1="287.6" y1="317.02" x2="290.6" y2="317.02" stroke="#555" stroke-width="1.1"/>
<text x="285.6" y="321.32" font-size="12.45" text-anchor="end">15</text>
<line x1="289" y1="300.64" x2="290.6" y2="300.64" stroke="#555" stroke-width="1.1"/>
<line x1="287.6" y1="284.26" x2="290.6" y2="284.26" stroke="#555" stroke-width="1.1"/>
<text x="285.6" y="288.56" font-size="12.45" text-anchor="end">20</text>
<line x1="289" y1="267.88" x2="290.6" y2="267.88" stroke="#555" stroke-width="1.1"/>
<line x1="287.6" y1="251.5" x2="290.6" y2="251.5" stroke="#555" stroke-width="1.1"/>
<text x="285.6" y="255.8" font-size="12.45" text-anchor="end">25</text>
<line x1="290.6" y1="415.3" x2="290.6" y2="418.3" stroke="#555" stroke-width="1.1"/>
<text x="291.2" y="431.9" font-size="12.45" text-anchor="middle">10<tspan font-size="8.4" dx="-0.4" dy="-4.8">1</tspan></text>
<line x1="341.67" y1="415.3" x2="341.67" y2="418.3" stroke="#555" stroke-width="1.1"/>
<text x="342.27" y="431.9" font-size="12.45" text-anchor="middle">10<tspan font-size="8.4" dx="-0.4" dy="-4.8">2</tspan></text>
<line x1="392.73" y1="415.3" x2="392.73" y2="418.3" stroke="#555" stroke-width="1.1"/>
<text x="393.33" y="431.9" font-size="12.45" text-anchor="middle">10<tspan font-size="8.4" dx="-0.4" dy="-4.8">3</tspan></text>
<line x1="443.8" y1="415.3" x2="443.8" y2="418.3" stroke="#555" stroke-width="1.1"/>
<text x="444.4" y="431.9" font-size="12.45" text-anchor="middle">10<tspan font-size="8.4" dx="-0.4" dy="-4.8">4</tspan></text>
<text x="367.2" y="448.5" font-size="12.9" text-anchor="middle">Diameter (nm)</text>
<text x="262.2" y="333.2" font-size="12.9" text-anchor="middle" transform="rotate(-90 262.2 333.2)">Intensity (%)</text>
<path d="M346.2,415.3 L346.56,412.77 L346.92,410.05 L347.28,407.14 L347.64,404.05 L348,400.76 L348.36,397.28 L348.73,393.62 L349.09,389.77 L349.45,385.74 L349.81,381.54 L350.17,377.19 L350.53,372.68 L350.89,368.04 L351.25,363.29 L351.61,358.43 L351.97,353.49 L352.33,348.5 L352.69,343.47 L353.05,338.44 L353.42,333.42 L353.78,328.46 L354.14,323.57 L354.5,318.78 L354.86,314.13 L355.22,309.65 L355.58,305.37 L355.94,301.32 L356.3,297.52 L356.66,294 L357.02,290.79 L357.38,287.92 L357.74,285.4 L358.11,283.25 L358.47,281.5 L358.83,280.15 L359.19,279.22 L359.55,278.7 L359.91,278.62 L360.27,278.91 L360.63,279.55 L360.99,280.55 L361.35,281.9 L361.71,283.59 L362.07,285.61 L362.43,287.94 L362.79,290.56 L363.16,293.47 L363.52,296.65 L363.88,300.06 L364.24,303.7 L364.6,307.54 L364.96,311.56 L365.32,315.73 L365.68,320.03 L366.04,324.44 L366.4,328.94 L366.76,333.49 L367.12,338.08 L367.48,342.69 L367.85,347.3 L368.21,351.87 L368.57,356.41 L368.93,360.88 L369.29,365.28 L369.65,369.59 L370.01,373.79 L370.37,377.87 L370.73,381.82 L371.09,385.64 L371.45,389.31 L371.81,392.83 L372.17,396.2 L372.54,399.4 L372.9,402.45 L373.26,405.34 L373.62,408.07 L373.98,410.63 L374.34,413.04 L374.7,415.3 Z" fill="url(#dls)"/>
<line x1="483.3" y1="414.6" x2="682.1" y2="414.6" stroke="#383838" stroke-width="1.2"/>
<line x1="483.8" y1="414.6" x2="483.8" y2="416" stroke="#333" stroke-width="1.1"/>
<line x1="508.53" y1="414.6" x2="508.53" y2="417.4" stroke="#333" stroke-width="1.1"/>
<text x="508.53" y="429.5" font-size="12.45" text-anchor="middle">400</text>
<line x1="533.25" y1="414.6" x2="533.25" y2="416" stroke="#333" stroke-width="1.1"/>
<line x1="557.98" y1="414.6" x2="557.98" y2="417.4" stroke="#333" stroke-width="1.1"/>
<text x="557.98" y="429.5" font-size="12.45" text-anchor="middle">500</text>
<line x1="582.7" y1="414.6" x2="582.7" y2="416" stroke="#333" stroke-width="1.1"/>
<line x1="607.42" y1="414.6" x2="607.42" y2="417.4" stroke="#333" stroke-width="1.1"/>
<text x="607.42" y="429.5" font-size="12.45" text-anchor="middle">600</text>
<line x1="632.15" y1="414.6" x2="632.15" y2="416" stroke="#333" stroke-width="1.1"/>
<line x1="656.88" y1="414.6" x2="656.88" y2="417.4" stroke="#333" stroke-width="1.1"/>
<text x="656.88" y="429.5" font-size="12.45" text-anchor="middle">700</text>
<line x1="681.6" y1="414.6" x2="681.6" y2="416" stroke="#333" stroke-width="1.1"/>
<text x="582.7" y="448.2" font-size="12.9" text-anchor="middle">Wavelength (nm)</text>
<text x="623.2" y="357.1" font-size="12.8">CRET</text>
<path d="M606,363h1v1h-1zM606,400h1v1h-1zM608,363h1v1h-1zM608,400h1v1h-1zM610,363h1v1h-1zM610,400h1v1h-1zM612,363h1v1h-1zM612,400h1v1h-1zM614,363h1v1h-1zM614,400h1v1h-1zM616,363h1v1h-1zM616,400h1v1h-1zM618,363h1v1h-1zM618,400h1v1h-1zM620,363h1v1h-1zM620,400h1v1h-1zM622,363h1v1h-1zM622,400h1v1h-1zM624,363h1v1h-1zM624,400h1v1h-1zM626,363h1v1h-1zM626,400h1v1h-1zM628,363h1v1h-1zM628,400h1v1h-1zM630,363h1v1h-1zM630,400h1v1h-1zM632,363h1v1h-1zM632,400h1v1h-1zM634,363h1v1h-1zM634,400h1v1h-1zM636,363h1v1h-1zM636,400h1v1h-1zM638,363h1v1h-1zM638,400h1v1h-1zM640,363h1v1h-1zM640,400h1v1h-1zM642,363h1v1h-1zM642,400h1v1h-1zM644,363h1v1h-1zM644,400h1v1h-1zM646,363h1v1h-1zM646,400h1v1h-1zM648,363h1v1h-1zM648,400h1v1h-1zM650,363h1v1h-1zM650,400h1v1h-1zM652,363h1v1h-1zM652,400h1v1h-1zM654,363h1v1h-1zM654,400h1v1h-1zM656,363h1v1h-1zM656,400h1v1h-1zM658,363h1v1h-1zM658,400h1v1h-1zM660,363h1v1h-1zM660,400h1v1h-1zM662,363h1v1h-1zM662,400h1v1h-1zM664,363h1v1h-1zM664,400h1v1h-1zM666,363h1v1h-1zM666,400h1v1h-1zM668,363h1v1h-1zM668,400h1v1h-1zM670,363h1v1h-1zM670,400h1v1h-1zM672,363h1v1h-1zM672,400h1v1h-1zM674,363h1v1h-1zM674,400h1v1h-1zM606,365h1v1h-1zM675,365h1v1h-1zM606,367h1v1h-1zM675,367h1v1h-1zM606,369h1v1h-1zM675,369h1v1h-1zM606,371h1v1h-1zM675,371h1v1h-1zM606,373h1v1h-1zM675,373h1v1h-1zM606,375h1v1h-1zM675,375h1v1h-1zM606,377h1v1h-1zM675,377h1v1h-1zM606,379h1v1h-1zM675,379h1v1h-1zM606,381h1v1h-1zM675,381h1v1h-1zM606,383h1v1h-1zM675,383h1v1h-1zM606,385h1v1h-1zM675,385h1v1h-1zM606,387h1v1h-1zM675,387h1v1h-1zM606,389h1v1h-1zM675,389h1v1h-1zM606,391h1v1h-1zM675,391h1v1h-1zM606,393h1v1h-1zM675,393h1v1h-1zM606,395h1v1h-1zM675,395h1v1h-1zM606,397h1v1h-1zM675,397h1v1h-1zM606,399h1v1h-1zM675,399h1v1h-1z" fill="#e77a7a"/>
<polyline points="483,400.5 483.5,400.6 484,400.69 484.5,400.76 485.01,400.82 485.51,400.87 486.01,400.91 486.51,400.94 487.01,400.96 487.51,400.98 488.02,400.99 488.52,401 489.02,401 489.52,401 490.02,401 490.52,400.95 491.03,400.83 491.53,400.66 492.03,400.44 492.53,400.18 493.03,399.87 493.53,399.54 494.04,399.17 494.54,398.79 495.04,398.38 495.54,397.84 496.04,397.14 496.54,396.3 497.05,395.33 497.55,394.26 498.05,393.1 498.55,391.87 499.05,390.58 499.55,389.26 500.06,387.89 500.56,386.35 501.06,384.64 501.56,382.78 502.06,380.79 502.56,378.7 503.07,376.54 503.57,374.32 504.07,372.07 504.57,369.83 505.07,367.58 505.57,365.24 506.07,362.82 506.58,360.33 507.08,357.78 507.58,355.18 508.08,352.55 508.58,349.9 509.08,347.24 509.59,344.6 510.09,341.96 510.59,339.32 511.09,336.66 511.59,333.98 512.09,331.28 512.6,328.56 513.1,325.81 513.6,323.03 514.1,320.21 514.6,317.36 515.1,314.43 515.61,311.37 516.11,308.21 516.61,305 517.11,301.78 517.61,298.59 518.11,295.46 518.62,292.45 519.12,289.58 519.62,286.9 520.12,284.32 520.62,281.74 521.12,279.19 521.63,276.7 522.13,274.3 522.63,272.02 523.13,269.89 523.63,267.94 524.13,266.21 524.63,264.7 525.14,263.33 525.64,262.01 526.14,260.75 526.64,259.56 527.14,258.46 527.64,257.47 528.15,256.59 528.65,255.84 529.15,255.23 529.65,254.77 530.15,254.37 530.65,253.98 531.16,253.64 531.66,253.34 532.16,253.11 532.66,252.96 533.16,252.9 533.66,252.94 534.17,253.06 534.67,253.26 535.17,253.53 535.67,253.86 536.17,254.24 536.67,254.66 537.18,255.11 537.68,255.59 538.18,256.08 538.68,256.67 539.18,257.44 539.68,258.37 540.19,259.43 540.69,260.6 541.19,261.85 541.69,263.16 542.19,264.51 542.69,265.86 543.2,267.19 543.7,268.55 544.2,269.99 544.7,271.5 545.2,273.08 545.7,274.71 546.2,276.38 546.71,278.09 547.21,279.81 547.71,281.54 548.21,283.28 548.71,285.01 549.21,286.71 549.72,288.41 550.22,290.12 550.72,291.85 551.22,293.59 551.72,295.34 552.22,297.1 552.73,298.86 553.23,300.63 553.73,302.4 554.23,304.16 554.73,305.92 555.23,307.71 555.74,309.5 556.24,311.3 556.74,313.1 557.24,314.89 557.74,316.67 558.24,318.43 558.75,320.16 559.25,321.86 559.75,323.54 560.25,325.22 560.75,326.9 561.25,328.56 561.76,330.21 562.26,331.84 562.76,333.46 563.26,335.05 563.76,336.61 564.26,338.15 564.77,339.65 565.27,341.12 565.77,342.55 566.27,343.97 566.77,345.36 567.27,346.74 567.77,348.1 568.28,349.43 568.78,350.74 569.28,352.03 569.78,353.28 570.28,354.51 570.78,355.71 571.29,356.88 571.79,358.02 572.29,359.15 572.79,360.26 573.29,361.36 573.79,362.44 574.3,363.5 574.8,364.54 575.3,365.57 575.8,366.57 576.3,367.55 576.8,368.5 577.31,369.43 577.81,370.33 578.31,371.19 578.81,372.03 579.31,372.84 579.81,373.63 580.32,374.4 580.82,375.15 581.32,375.89 581.82,376.62 582.32,377.32 582.82,378.01 583.33,378.67 583.83,379.32 584.33,379.95 584.83,380.55 585.33,381.13 585.83,381.69 586.33,382.23 586.84,382.74 587.34,383.24 587.84,383.72 588.34,384.18 588.84,384.62 589.34,385.06 589.85,385.48 590.35,385.89 590.85,386.29 591.35,386.68 591.85,387.07 592.35,387.45 592.86,387.83 593.36,388.2 593.86,388.57 594.36,388.94 594.86,389.31 595.36,389.69 595.87,390.06 596.37,390.42 596.87,390.79 597.37,391.14 597.87,391.49 598.37,391.82 598.88,392.15 599.38,392.46 599.88,392.76 600.38,393.04 600.88,393.3 601.38,393.54 601.89,393.77 602.39,393.99 602.89,394.2 603.39,394.41 603.89,394.6 604.39,394.79 604.9,394.96 605.4,395.12 605.9,395.27 606.4,395.4" fill="none" stroke="#2525d5" stroke-width="1.3" stroke-linejoin="round" stroke-linecap="round"/>
<polyline points="675.4,399.8 678,400.1 681.7,400.4" fill="none" stroke="#2525d5" stroke-width="1.3" stroke-linejoin="round" stroke-linecap="round"/>
<polyline points="606.4,395.4 606.9,395.22 607.4,394.95 607.9,394.61 608.4,394.22 608.9,393.77 609.4,393.3 609.9,392.76 610.4,392.09 610.9,391.31 611.4,390.44 611.9,389.51 612.4,388.54 612.9,387.57 613.4,386.6 613.9,385.61 614.4,384.57 614.9,383.48 615.4,382.36 615.9,381.22 616.4,380.09 616.9,378.97 617.4,377.88 617.9,376.77 618.4,375.63 618.9,374.47 619.4,373.34 619.9,372.24 620.4,371.21 620.9,370.27 621.4,369.44 621.9,368.64 622.4,367.86 622.9,367.12 623.4,366.46 623.9,365.91 624.4,365.51 624.9,365.26 625.4,365.03 625.9,364.84 626.4,364.7 626.9,364.61 627.4,364.6 627.9,364.66 628.4,364.76 628.9,364.9 629.4,365.06 629.9,365.24 630.4,365.51 630.9,365.89 631.4,366.35 631.9,366.87 632.4,367.42 632.9,367.98 633.4,368.54 633.9,369.15 634.4,369.81 634.9,370.51 635.4,371.23 635.9,371.95 636.4,372.67 636.9,373.37 637.4,374.04 637.9,374.71 638.4,375.39 638.9,376.06 639.4,376.73 639.9,377.39 640.4,378.04 640.9,378.67 641.4,379.3 641.9,379.91 642.4,380.52 642.9,381.12 643.4,381.71 643.9,382.29 644.4,382.85 644.9,383.4 645.4,383.93 645.9,384.45 646.4,384.96 646.9,385.46 647.4,385.95 647.9,386.43 648.4,386.91 648.9,387.39 649.4,387.85 649.9,388.32 650.4,388.79 650.9,389.26 651.4,389.74 651.9,390.21 652.4,390.68 652.9,391.15 653.4,391.6 653.9,392.03 654.4,392.45 654.9,392.84 655.4,393.2 655.9,393.54 656.4,393.87 656.9,394.18 657.4,394.48 657.9,394.77 658.4,395.05 658.9,395.32 659.4,395.58 659.9,395.83 660.4,396.06 660.9,396.29 661.4,396.51 661.9,396.72 662.4,396.93 662.9,397.12 663.4,397.31 663.9,397.5 664.4,397.67 664.9,397.84 665.4,398.01 665.9,398.17 666.4,398.33 666.9,398.49 667.4,398.65 667.9,398.8 668.4,398.95 668.9,399.08 669.4,399.2 669.9,399.31 670.4,399.39 670.9,399.45 671.4,399.51 671.9,399.57 672.4,399.62 672.9,399.67 673.4,399.72 673.9,399.75 674.4,399.78 674.9,399.79 675.4,399.8" fill="none" stroke="#d83030" stroke-width="1.3" stroke-linejoin="round" stroke-linecap="round"/>
<line x1="57.2" y1="484.8" x2="57.2" y2="648.8" stroke="#333" stroke-width="1.1"/>
<line x1="56.7" y1="648.3" x2="213.1" y2="648.3" stroke="#333" stroke-width="1.1"/>
<line x1="54.2" y1="648.3" x2="57.2" y2="648.3" stroke="#333" stroke-width="1"/>
<text x="52.2" y="652.6" font-size="12.45" text-anchor="end">0</text>
<line x1="55.6" y1="627.86" x2="57.2" y2="627.86" stroke="#333" stroke-width="1"/>
<line x1="54.2" y1="607.42" x2="57.2" y2="607.42" stroke="#333" stroke-width="1"/>
<text x="52.2" y="611.72" font-size="12.45" text-anchor="end">3</text>
<line x1="55.6" y1="586.99" x2="57.2" y2="586.99" stroke="#333" stroke-width="1"/>
<line x1="54.2" y1="566.55" x2="57.2" y2="566.55" stroke="#333" stroke-width="1"/>
<text x="52.2" y="570.85" font-size="12.45" text-anchor="end">6</text>
<line x1="55.6" y1="546.11" x2="57.2" y2="546.11" stroke="#333" stroke-width="1"/>
<line x1="54.2" y1="525.67" x2="57.2" y2="525.67" stroke="#333" stroke-width="1"/>
<text x="52.2" y="529.97" font-size="12.45" text-anchor="end">9</text>
<line x1="55.6" y1="505.24" x2="57.2" y2="505.24" stroke="#333" stroke-width="1"/>
<line x1="54.2" y1="484.8" x2="57.2" y2="484.8" stroke="#333" stroke-width="1"/>
<text x="52.2" y="489.1" font-size="12.45" text-anchor="end">12</text>
<line x1="57.2" y1="648.3" x2="57.2" y2="650.7" stroke="#333" stroke-width="1"/>
<text x="57.2" y="663.7" font-size="12.45" text-anchor="middle">0</text>
<line x1="83.18" y1="648.3" x2="83.18" y2="649.6" stroke="#333" stroke-width="1"/>
<line x1="109.17" y1="648.3" x2="109.17" y2="650.7" stroke="#333" stroke-width="1"/>
<text x="109.17" y="663.7" font-size="12.45" text-anchor="middle">20</text>
<line x1="135.15" y1="648.3" x2="135.15" y2="649.6" stroke="#333" stroke-width="1"/>
<line x1="161.13" y1="648.3" x2="161.13" y2="650.7" stroke="#333" stroke-width="1"/>
<text x="161.13" y="663.7" font-size="12.45" text-anchor="middle">40</text>
<line x1="187.12" y1="648.3" x2="187.12" y2="649.6" stroke="#333" stroke-width="1"/>
<line x1="213.1" y1="648.3" x2="213.1" y2="650.7" stroke="#333" stroke-width="1"/>
<text x="213.1" y="663.7" font-size="12.45" text-anchor="middle">60</text>
<text x="135.15" y="683.2" font-size="12.65" text-anchor="middle">Time (s)</text>
<text x="32.1" y="569.7" font-size="12.5" text-anchor="middle" transform="rotate(-90 32.1 569.7)">Counts (x10<tspan font-size="8.8" dy="-4.7">3</tspan><tspan dy="4.7">)</tspan></text>
<line x1="61.4" y1="484.7" x2="75.8" y2="484.7" stroke="#4d4d4d" stroke-width="1.6"/>
<text x="85.2" y="488.9" font-size="12.1">1.8 mg/mL</text>
<line x1="61.4" y1="498.08" x2="75.8" y2="498.08" stroke="#b77fe2" stroke-width="1.6"/>
<text x="85.2" y="502.28" font-size="12.1">3.6 mg/mL</text>
<line x1="61.4" y1="511.46" x2="75.8" y2="511.46" stroke="#2b6bd6" stroke-width="1.6"/>
<text x="85.2" y="515.66" font-size="12.1">7.5 mg/mL</text>
<line x1="61.4" y1="524.84" x2="75.8" y2="524.84" stroke="#c9a22a" stroke-width="1.6"/>
<text x="85.2" y="529.04" font-size="12.1">15 mg/mL</text>
<line x1="61.4" y1="538.22" x2="75.8" y2="538.22" stroke="#25c3c6" stroke-width="1.6"/>
<text x="85.2" y="542.42" font-size="12.1">30 mg/mL</text>
<polyline points="57.2,648.3 70.71,648.11 71.21,648.06 71.71,648 72.21,647.93 72.71,647.89 73.21,647.84 73.71,647.76 74.21,647.72 74.71,647.68 75.21,647.62 75.71,647.56 76.21,647.49 76.71,647.4 77.21,647.33 77.71,647.31 78.21,647.29 78.71,647.23 79.21,647.13 79.71,647.05 80.21,647.03 80.71,647 81.21,646.99 81.71,647.02 82.21,646.89 82.71,646.63 83.21,646.57 83.71,646.65 84.21,646.66 84.71,646.64 85.21,646.67 85.71,646.64 86.21,646.48 86.71,646.46 87.21,646.54 87.71,646.49 88.21,646.37 88.71,646.22 89.21,646.13 89.71,646.16 90.21,646.13 90.71,646.03 91.21,646 91.71,645.99 92.21,645.94 92.71,645.93 93.21,645.93 93.71,645.88 94.21,645.84 94.71,645.86 95.21,645.86 95.71,645.76 96.21,645.69 96.71,645.67 97.21,645.65 97.71,645.61 98.21,645.56 98.71,645.55 99.21,645.49 99.71,645.38 100.21,645.38 100.71,645.4 101.21,645.36 101.71,645.26 102.21,645.22 102.71,645.24 103.21,645.23 103.71,645.24 104.21,645.19 104.71,645.09 105.21,645.14 105.71,645.18 106.21,645.07 106.71,645.02 107.21,645.05 107.71,645.06 108.21,645.02 108.71,644.91 109.21,644.82 109.71,644.83 110.21,644.86 110.71,644.88 111.21,644.81 111.71,644.67 112.21,644.68 112.71,644.79 113.21,644.78 113.71,644.69 114.21,644.68 114.71,644.7 115.21,644.71 115.71,644.69 116.21,644.64 116.71,644.57 117.21,644.57 117.71,644.53 118.21,644.41 118.71,644.43 119.21,644.44 119.71,644.39 120.21,644.4 120.71,644.42 121.21,644.44 121.71,644.43 122.21,644.45 122.71,644.46 123.21,644.37 123.71,644.24 124.21,644.24 124.71,644.35 125.21,644.3 125.71,644.22 126.21,644.23 126.71,644.25 127.21,644.26 127.71,644.23 128.21,644.17 128.71,644.15 129.21,644.14 129.71,644.12 130.21,644.19 130.71,644.19 131.21,643.99 131.71,643.92 132.21,644.13 132.71,644.22 133.21,644.04 133.71,643.97 134.21,644.01 134.71,643.98 135.21,643.95 135.71,643.99 136.21,644.01 136.71,643.99 137.21,643.98 137.71,643.94 138.21,643.9 138.71,643.88 139.21,643.88 139.71,643.87 140.21,643.83 140.71,643.86 141.21,643.96 141.71,643.94 142.21,643.9 142.71,643.9 143.21,643.86 143.71,643.86 144.21,643.89 144.71,643.85 145.21,643.81 145.71,643.84 146.21,643.79 146.71,643.72 147.21,643.73 147.71,643.82 148.21,643.86 148.71,643.79 149.21,643.71 149.71,643.67 150.21,643.75 150.71,643.83 151.21,643.77 151.71,643.74 152.21,643.79 152.71,643.83 153.21,643.88 153.71,643.9 154.21,643.81 154.71,643.71 155.21,643.72 155.71,643.74 156.21,643.74 156.71,643.74 157.21,643.69 157.71,643.66 158.21,643.7 158.71,643.67 159.21,643.65 159.71,643.75 160.21,643.82 160.71,643.78 161.21,643.7 161.71,643.74 162.21,643.87 162.71,643.8 163.21,643.63 163.71,643.61 164.21,643.62 164.71,643.6 165.21,643.63 165.71,643.7 166.21,643.77 166.71,643.69 167.21,643.54 167.71,643.55 168.21,643.61 168.71,643.69 169.21,643.73 169.71,643.67 170.21,643.67 170.71,643.8 171.21,643.8 171.71,643.67 172.21,643.63 172.71,643.62 173.21,643.59 173.71,643.63 174.21,643.69 174.71,643.64 175.21,643.61 175.71,643.65 176.21,643.61 176.71,643.59 177.21,643.59 177.71,643.58 178.21,643.55 178.71,643.57 179.21,643.6 179.71,643.61 180.21,643.61 180.71,643.64 181.21,643.65 181.71,643.62 182.21,643.59 182.71,643.56 183.21,643.53 183.71,643.54 184.21,643.58 184.71,643.54 185.21,643.54 185.71,643.62 186.21,643.63 186.71,643.53 187.21,643.48 187.71,643.57 188.21,643.59 188.71,643.54 189.21,643.58 189.71,643.54 190.21,643.5 190.71,643.55 191.21,643.58 191.71,643.54 192.21,643.54 192.71,643.62 193.21,643.55 193.71,643.48 194.21,643.55 194.71,643.57 195.21,643.56 195.71,643.55 196.21,643.55 196.71,643.54 197.21,643.53 197.71,643.55 198.21,643.51 198.71,643.47 199.21,643.52 199.71,643.55 200.21,643.5 200.71,643.48 201.21,643.47 201.71,643.39 202.21,643.39 202.71,643.43 203.21,643.41 203.71,643.45 204.21,643.51 204.71,643.5 205.21,643.43 205.71,643.41 206.21,643.39 206.71,643.41 207.21,643.54 207.71,643.47 208.21,643.4 208.71,643.46 209.21,643.39 209.71,643.32 210.21,643.39" fill="none" stroke="#4d4d4d" stroke-width="1.6" stroke-linejoin="round" stroke-linecap="round"/>
<polyline points="57.2,648.3 70.57,647.86 71.07,647.67 71.57,647.46 72.07,647.26 72.57,647.16 73.07,647.02 73.57,646.8 74.07,646.63 74.57,646.44 75.07,646.24 75.57,646.11 76.07,645.89 76.57,645.62 77.07,645.47 77.57,645.38 78.07,645.26 78.57,645.07 79.07,644.86 79.57,644.66 80.07,644.52 80.57,644.46 81.07,644.34 81.57,644.17 82.07,643.95 82.57,643.74 83.07,643.78 83.57,643.66 84.07,643.17 84.57,642.83 85.07,642.83 85.57,642.91 86.07,642.87 86.57,642.78 87.07,642.62 87.57,642.41 88.07,642.22 88.57,642.1 89.07,641.94 89.57,641.68 90.07,641.55 90.57,641.62 91.07,641.55 91.57,641.21 92.07,640.93 92.57,640.93 93.07,640.93 93.57,640.84 94.07,640.65 94.57,640.42 95.07,640.45 95.57,640.35 96.07,640.04 96.57,640.02 97.07,640.04 97.57,639.91 98.07,639.91 98.57,639.88 99.07,639.58 99.57,639.27 100.07,639.15 100.57,639.12 101.07,639 101.57,638.85 102.07,638.8 102.57,638.68 103.07,638.41 103.57,638.11 104.07,638.08 104.57,638.27 105.07,638.32 105.57,638.24 106.07,638.01 106.57,637.81 107.07,637.78 107.57,637.63 108.07,637.39 108.57,637.42 109.07,637.56 109.57,637.46 110.07,637.26 110.57,637.08 111.07,636.99 111.57,637 112.07,636.86 112.57,636.68 113.07,636.58 113.57,636.51 114.07,636.55 114.57,636.53 115.07,636.41 115.57,636.35 116.07,636.21 116.57,636.05 117.07,635.94 117.57,635.89 118.07,635.85 118.57,635.72 119.07,635.59 119.57,635.5 120.07,635.37 120.57,635.28 121.07,635.35 121.57,635.45 122.07,635.46 122.57,635.49 123.07,635.48 123.57,635.24 124.07,635.1 124.57,635.08 125.07,634.93 125.57,634.82 126.07,634.73 126.57,634.58 127.07,634.49 127.57,634.56 128.07,634.49 128.57,634.43 129.07,634.57 129.57,634.51 130.07,634.28 130.57,634.13 131.07,634.1 131.57,634.12 132.07,634.16 132.57,634.08 133.07,633.87 133.57,633.75 134.07,633.66 134.57,633.56 135.07,633.58 135.57,633.66 136.07,633.76 136.57,633.71 137.07,633.53 137.57,633.46 138.07,633.51 138.57,633.57 139.07,633.46 139.57,633.28 140.07,633.11 140.57,633.05 141.07,633.09 141.57,633.08 142.07,632.98 142.57,632.89 143.07,632.9 143.57,632.95 144.07,633 144.57,632.96 145.07,632.82 145.57,632.68 146.07,632.63 146.57,632.57 147.07,632.53 147.57,632.55 148.07,632.54 148.57,632.57 149.07,632.61 149.57,632.55 150.07,632.36 150.57,632.17 151.07,632.16 151.57,632.11 152.07,632.06 152.57,632.18 153.07,632.19 153.57,632.17 154.07,632.25 154.57,632.23 155.07,632.07 155.57,631.95 156.07,631.99 156.57,631.97 157.07,631.91 157.57,632 158.07,631.88 158.57,631.66 159.07,631.65 159.57,631.71 160.07,631.85 160.57,631.81 161.07,631.57 161.57,631.52 162.07,631.59 162.57,631.68 163.07,631.78 163.57,631.71 164.07,631.57 164.57,631.44 165.07,631.3 165.57,631.42 166.07,631.53 166.57,631.39 167.07,631.32 167.57,631.48 168.07,631.58 168.57,631.37 169.07,631.25 169.57,631.25 170.07,631.13 170.57,631.13 171.07,631.2 171.57,631.18 172.07,631.17 172.57,631.23 173.07,631.1 173.57,630.79 174.07,630.72 174.57,630.95 175.07,631.14 175.57,631.07 176.07,630.96 176.57,630.96 177.07,631.01 177.57,630.99 178.07,630.87 178.57,630.83 179.07,630.99 179.57,630.96 180.07,630.85 180.57,630.99 181.07,630.93 181.57,630.61 182.07,630.51 182.57,630.69 183.07,630.74 183.57,630.52 184.07,630.46 184.57,630.6 185.07,630.56 185.57,630.64 186.07,630.96 186.57,630.98 187.07,630.71 187.57,630.53 188.07,630.39 188.57,630.25 189.07,630.28 189.57,630.27 190.07,630.13 190.57,630.16 191.07,630.33 191.57,630.38 192.07,630.39 192.57,630.35 193.07,630.16 193.57,629.98 194.07,629.96 194.57,630.13 195.07,630.26 195.57,630.24 196.07,630.16 196.57,630.02 197.07,629.96 197.57,629.92 198.07,630 198.57,630.24 199.07,630.19 199.57,629.94 200.07,629.87 200.57,629.85 201.07,629.82 201.57,629.83 202.07,629.77 202.57,629.72 203.07,629.71 203.57,629.67 204.07,629.57 204.57,629.51 205.07,629.55 205.57,629.62 206.07,629.67 206.57,629.79 207.07,629.91 207.57,629.83 208.07,629.7 208.57,629.65 209.07,629.64 209.57,629.73 210.07,629.62 210.57,629.45 211.07,629.56 211.57,629.46 212.07,629.16 212.57,629.2" fill="none" stroke="#b77fe2" stroke-width="1.6" stroke-linejoin="round" stroke-linecap="round"/>
<polyline points="57.2,648.3 70.7,648.02 71.2,647.4 71.7,646.81 72.2,646.26 72.7,645.67 73.2,645.06 73.7,644.41 74.2,643.93 74.7,643.79 75.2,643.75 75.7,643.07 76.2,642.16 76.7,641.59 77.2,641 77.7,640.5 78.2,640.3 78.7,640.09 79.2,639.75 79.7,639.41 80.2,638.9 80.7,638.61 81.2,638.51 81.7,637.94 82.2,637.23 82.7,636.9 83.2,636.94 83.7,636.75 84.2,636.03 84.7,635.58 85.2,635.32 85.7,634.75 86.2,634.49 86.7,634.5 87.2,634.2 87.7,633.8 88.2,633.15 88.7,632.53 89.2,632.51 89.7,632.12 90.2,631.65 90.7,631.82 91.2,631.75 91.7,631.16 92.2,630.73 92.7,630.65 93.2,630.69 93.7,630.71 94.2,630.4 94.7,630.04 95.2,629.79 95.7,629.24 96.2,628.85 96.7,628.9 97.2,628.75 97.7,628.25 98.2,627.9 98.7,627.52 99.2,627.14 99.7,627.35 100.2,627.21 100.7,626.66 101.2,626.47 101.7,626.44 102.2,626.18 102.7,625.63 103.2,625.57 103.7,625.97 104.2,625.67 104.7,624.91 105.2,624.82 105.7,624.93 106.2,624.88 106.7,624.78 107.2,624.37 107.7,624.05 108.2,624.01 108.7,624.09 109.2,623.82 109.7,623.21 110.2,623.08 110.7,623.48 111.2,623.5 111.7,623.26 112.2,623.09 112.7,622.66 113.2,622.13 113.7,621.8 114.2,621.89 114.7,621.92 115.2,621.43 115.7,621.17 116.2,621.26 116.7,621.32 117.2,621.1 117.7,620.47 118.2,620.19 118.7,620.56 119.2,620.88 119.7,620.7 120.2,620.3 120.7,620.03 121.2,619.9 121.7,619.84 122.2,619.69 122.7,619.4 123.2,619.27 123.7,619.27 124.2,619.23 124.7,619.39 125.2,619.67 125.7,619.57 126.2,618.88 126.7,618.1 127.2,617.95 127.7,618.15 128.2,617.99 128.7,617.82 129.2,618.3 129.7,618.41 130.2,617.84 130.7,617.63 131.2,617.78 131.7,618 132.2,618.29 132.7,618.24 133.2,617.74 133.7,617.36 134.2,617.23 134.7,617.12 135.2,616.84 135.7,616.27 136.2,615.57 136.7,615.15 137.2,615.16 137.7,615.33 138.2,615.05 138.7,614.45 139.2,614.16 139.7,613.96 140.2,613.45 140.7,613.08 141.2,613.31 141.7,613.3 142.2,612.51 142.7,611.75 143.2,611.32 143.7,611.29 144.2,611.7 144.7,611.9 145.2,611.79 145.7,611.8 146.2,611.86 146.7,611.72 147.2,611.53 147.7,611.74 148.2,611.97 148.7,611.9 149.2,611.83 149.7,611.82 150.2,611.96 150.7,612.03 151.2,611.72 151.7,611.53 152.2,611.54 152.7,611.48 153.2,610.96 153.7,610.22 154.2,610.02 154.7,609.85 155.2,609.65 155.7,609.68 156.2,609.58 156.7,609.26 157.2,609 157.7,608.82 158.2,608.36 158.7,608.11 159.2,608.04 159.7,608.02 160.2,608.27 160.7,608.36 161.2,608.14 161.7,607.6 162.2,607.23 162.7,607.32 163.2,607.3 163.7,607.09 164.2,607.04 164.7,607.19 165.2,607.18 165.7,606.93 166.2,606.76 166.7,606.41 167.2,606.04 167.7,605.89 168.2,605.84 168.7,606.11 169.2,606.26 169.7,606.08 170.2,606.09 170.7,606.09 171.2,605.74 171.7,605.36 172.2,604.94 172.7,604.72 173.2,604.7 173.7,604.55 174.2,604.64 174.7,604.8 175.2,604.74 175.7,604.39 176.2,604.1 176.7,604.1 177.2,603.99 177.7,603.92 178.2,603.94 178.7,603.86 179.2,603.7 179.7,603.57 180.2,603.39 180.7,603.21 181.2,603.33 181.7,603.62 182.2,604.1 182.7,604.03 183.2,603.51 183.7,603.59 184.2,603.65 184.7,603.54 185.2,603.63 185.7,603.32 186.2,602.94 186.7,603.03 187.2,603.13 187.7,602.88 188.2,602.63 188.7,602.76 189.2,602.6 189.7,602.02 190.2,601.79 190.7,601.76 191.2,601.84 191.7,602 192.2,601.61 192.7,601 193.2,600.86 193.7,601.24 194.2,601.49 194.7,601.09 195.2,600.8 195.7,600.77 196.2,600.88 196.7,600.96 197.2,600.63 197.7,600.45 198.2,600.46 198.7,600.22 199.2,600.14 199.7,600.36 200.2,600.22 200.7,599.85 201.2,599.59 201.7,599.62 202.2,599.96 202.7,600.12 203.2,600.1 203.7,600.03 204.2,599.78 204.7,599.54 205.2,599.5 205.7,599.32 206.2,599.07 206.7,599.13 207.2,599.15 207.7,598.85 208.2,598.75 208.7,599.25 209.2,599.71" fill="none" stroke="#2b6bd6" stroke-width="1.6" stroke-linejoin="round" stroke-linecap="round"/>
<polyline points="57.2,648.3 70.71,648.01 71.21,647.35 71.71,646.75 72.21,646.03 72.71,645.19 73.21,644.49 73.71,643.84 74.21,643.07 74.71,642.27 75.21,641.72 75.71,641.33 76.21,640.81 76.71,640.02 77.21,638.96 77.71,638.25 78.21,637.71 78.71,636.82 79.21,636.19 79.71,635.46 80.21,634.49 80.71,633.81 81.21,633.31 81.71,632.85 82.21,632.42 82.71,631.71 83.21,630.69 83.71,630.01 84.21,629.62 84.71,628.98 85.21,628.11 85.71,627.7 86.21,627.29 86.71,626.7 87.21,626.48 87.71,626.17 88.21,625.77 88.71,625.13 89.21,624.18 89.71,623.59 90.21,623.42 90.71,623.29 91.21,622.8 91.71,622 92.21,621.38 92.71,620.95 93.21,620.61 93.71,620.33 94.21,620.27 94.71,620.1 95.21,619.36 95.71,618.8 96.21,618.44 96.71,617.86 97.21,617.49 97.71,617.36 98.21,616.95 98.71,616.47 99.21,616.28 99.71,615.86 100.21,615.46 100.71,615.28 101.21,614.97 101.71,614.54 102.21,613.94 102.71,613.42 103.21,612.91 103.71,612.48 104.21,612.2 104.71,611.5 105.21,611.12 105.71,611.19 106.21,610.5 106.71,609.91 107.21,609.85 107.71,609.44 108.21,608.86 108.71,608.23 109.21,607.55 109.71,606.85 110.21,606.34 110.71,606.29 111.21,606.37 111.71,606.55 112.21,606.29 112.71,605.55 113.21,605.09 113.71,604.68 114.21,604.11 114.71,603.53 115.21,603.15 115.71,602.98 116.21,602.82 116.71,602.7 117.21,602.64 117.71,602.63 118.21,602.33 118.71,602.06 119.21,601.97 119.71,601.62 120.21,601.15 120.71,600.82 121.21,600.71 121.71,600.73 122.21,600.53 122.71,600.21 123.21,599.87 123.71,599.5 124.21,599.14 124.71,598.92 125.21,598.99 125.71,598.83 126.21,598.53 126.71,598.37 127.21,598.03 127.71,597.87 128.21,597.87 128.71,597.45 129.21,597.03 129.71,596.77 130.21,596.63 130.71,596.78 131.21,596.58 131.71,596.49 132.21,596.86 132.71,596.67 133.21,596.02 133.71,595.76 134.21,595.83 134.71,595.62 135.21,595.09 135.71,594.88 136.21,594.88 136.71,594.65 137.21,594.45 137.71,594.08 138.21,593.48 138.71,592.93 139.21,592.64 139.71,593.03 140.21,593.25 140.71,592.96 141.21,593.04 141.71,592.97 142.21,592.52 142.71,592.24 143.21,591.99 143.71,591.67 144.21,591.57 144.71,591.63 145.21,591.69 145.71,591.47 146.21,591.15 146.71,591 147.21,590.73 147.71,590.6 148.21,590.62 148.71,590.44 149.21,590.27 149.71,590.12 150.21,589.82 150.71,589.62 151.21,589.74 151.71,589.83 152.21,589.84 152.71,589.88 153.21,589.19 153.71,588.39 154.21,588.77 154.71,589.3 155.21,588.99 155.71,588.51 156.21,588.52 156.71,588.87 157.21,588.93 157.71,588.68 158.21,588.6 158.71,588.66 159.21,588.28 159.71,587.85 160.21,587.93 160.71,587.9 161.21,587.78 161.71,587.79 162.21,587.26 162.71,586.9 163.21,587.5 163.71,587.71 164.21,587.24 164.71,587.03 165.21,586.87 165.71,586.69 166.21,586.75 166.71,586.72 167.21,586.47 167.71,586.26 168.21,586.39 168.71,586.82 169.21,586.92 169.71,586.59 170.21,586.16 170.71,586 171.21,586.32 171.71,586.26 172.21,585.83 172.71,585.62 173.21,585.28 173.71,585.32 174.21,585.43 174.71,584.97 175.21,584.84 175.71,585.24 176.21,585.36 176.71,585.25 177.21,585.17 177.71,585.09 178.21,585.17 178.71,585.01 179.21,584.8 179.71,584.8 180.21,584.9 180.71,585.23 181.21,585.25 181.71,584.75 182.21,584.2 182.71,583.89 183.21,583.95 183.71,584.17 184.21,584.24 184.71,584.24 185.21,584.31 185.71,584.18 186.21,583.79 186.71,583.86 187.21,584.34 187.71,584.28 188.21,584.02 188.71,583.94 189.21,583.61 189.71,583.14 190.21,583.01 190.71,583.25 191.21,583.39 191.71,583.41 192.21,583.3 192.71,583.06 193.21,583.09 193.71,583.17 194.21,582.97 194.71,582.85 195.21,583.04 195.71,583.33 196.21,583.65 196.71,583.73 197.21,583.6 197.71,583.52 198.21,583.43 198.71,583.49 199.21,583.76 199.71,583.98 200.21,583.76 200.71,583.48 201.21,583.55 201.71,583.5 202.21,583.27 202.71,583.07 203.21,583.32 203.71,583.78 204.21,583.63 204.71,583.19 205.21,582.71 205.71,582.52 206.21,582.71 206.71,582.9 207.21,582.87 207.71,582.69 208.21,582.95 208.71,583.06 209.21,582.8 209.71,582.72 210.21,582.66 210.71,582.79 211.21,583.18 211.71,583.29 212.21,583.04 212.71,583.03" fill="none" stroke="#c9a22a" stroke-width="1.6" stroke-linejoin="round" stroke-linecap="round"/>
<polyline points="57.2,648.3 70.51,647.89 71.01,646.67 71.51,645.48 72.01,644.36 72.51,643.23 73.01,641.98 73.51,640.66 74.01,639.48 74.51,638.59 75.01,637.61 75.51,636.15 76.01,634.54 76.51,633.54 77.01,632.87 77.51,631.45 78.01,629.85 78.51,628.74 79.01,627.61 79.51,626.5 80.01,625.45 80.51,624.45 81.01,623.56 81.51,622.39 82.01,621.21 82.51,620.36 83.01,619.2 83.51,617.74 84.01,616.62 84.51,615.66 85.01,614.59 85.51,613.53 86.01,612.68 86.51,611.78 87.01,610.6 87.51,609.46 88.01,608.44 88.51,607.33 89.01,606.4 89.51,605.63 90.01,604.81 90.51,604.21 91.01,603.1 91.51,601.72 92.01,600.85 92.51,600.02 93.01,599.22 93.51,598.22 94.01,597.04 94.51,596.34 95.01,595.84 95.51,595.01 96.01,594.01 96.51,593.15 97.01,592.19 97.51,591.26 98.01,590.7 98.51,590.29 99.01,589.78 99.51,589.12 100.01,588.15 100.51,587.2 101.01,586.27 101.51,585.21 102.01,584.59 102.51,584.05 103.01,583.13 103.51,582.3 104.01,581.68 104.51,580.98 105.01,580.13 105.51,579.41 106.01,578.83 106.51,578.04 107.01,577.32 107.51,576.7 108.01,575.72 108.51,574.81 109.01,574.43 109.51,574.18 110.01,573.41 110.51,572.45 111.01,571.9 111.51,571.47 112.01,570.66 112.51,570.06 113.01,569.68 113.51,568.99 114.01,568.44 114.51,567.99 115.01,567.4 115.51,567.06 116.01,566.66 116.51,565.73 117.01,564.69 117.51,564.12 118.01,563.9 118.51,563.62 119.01,563.14 119.51,562.52 120.01,561.88 120.51,561.34 121.01,560.94 121.51,560.57 122.01,560.09 122.51,559.89 123.01,559.74 123.51,558.88 124.01,558.13 124.51,558.07 125.01,557.51 125.51,556.8 126.01,556.54 126.51,556.02 127.01,555.32 127.51,554.75 128.01,554.36 128.51,554.28 129.01,554.08 129.51,553.53 130.01,553.32 130.51,552.99 131.01,552.18 131.51,551.7 132.01,551.26 132.51,550.62 133.01,550.28 133.51,550.21 134.01,549.96 134.51,549.48 135.01,549.23 135.51,549.06 136.01,548.75 136.51,548.44 137.01,548.07 137.51,547.86 138.01,547.71 138.51,547.18 139.01,546.65 139.51,546.21 140.01,545.63 140.51,545.4 141.01,545.43 141.51,545.34 142.01,545.05 142.51,544.3 143.01,543.87 143.51,544.15 144.01,543.8 144.51,543.18 145.01,543.08 145.51,542.55 146.01,541.82 146.51,541.66 147.01,541.82 147.51,541.78 148.01,541.26 148.51,540.85 149.01,540.65 149.51,540.32 150.01,540.07 150.51,540.17 151.01,540.24 151.51,539.81 152.01,539.12 152.51,538.81 153.01,538.79 153.51,538.54 154.01,538.12 154.51,538.12 155.01,538.57 155.51,538.33 156.01,537.78 156.51,537.88 157.01,537.57 157.51,536.75 158.01,536.59 158.51,536.81 159.01,536.83 159.51,536.59 160.01,536.32 160.51,536.43 161.01,536.81 161.51,536.64 162.01,535.8 162.51,535.67 163.01,535.92 163.51,535.36 164.01,534.94 164.51,535.05 165.01,535.17 165.51,535.14 166.01,534.76 166.51,534.4 167.01,534.42 167.51,534.59 168.01,534.6 168.51,534.03 169.01,533.37 169.51,533.46 170.01,533.74 170.51,533.22 171.01,532.64 171.51,532.77 172.01,533.12 172.51,533.09 173.01,532.76 173.51,532.79 174.01,532.71 174.51,532.28 175.01,532.34 175.51,532.75 176.01,532.73 176.51,532.31 177.01,532.03 177.51,531.87 178.01,531.52 178.51,531.14 179.01,530.93 179.51,530.9 180.01,531.21 180.51,531.41 181.01,531.07 181.51,530.94 182.01,530.81 182.51,530.48 183.01,530.08 183.51,529.57 184.01,529.69 184.51,529.63 185.01,528.94 185.51,529 186.01,529.42 186.51,529.15 187.01,528.75 187.51,528.69 188.01,528.78 188.51,528.94 189.01,528.83 189.51,528.46 190.01,528.25 190.51,528.43 191.01,528.63 191.51,528.5 192.01,528.27 192.51,527.88 193.01,527.49 193.51,527.58 194.01,527.85 194.51,527.69 195.01,527.21 195.51,527.06 196.01,527.29 196.51,527.33 197.01,527.22 197.51,527.26 198.01,527.37 198.51,527.5 199.01,527.63 199.51,527.73 200.01,527.74 200.51,527.49 201.01,527.17 201.51,527.15 202.01,527.22 202.51,527.2 203.01,527.4 203.51,527.44 204.01,526.92 204.51,526.84 205.01,527.35 205.51,527.55 206.01,527.35 206.51,527.33 207.01,527.72 207.51,527.73 208.01,527.31 208.51,527.11 209.01,527.04 209.51,526.83 210.01,526.41 210.51,526.16 211.01,526.09 211.51,525.56" fill="none" stroke="#25c3c6" stroke-width="1.6" stroke-linejoin="round" stroke-linecap="round"/>
<line x1="67.9" y1="601.7" x2="67.9" y2="643.6" stroke="#000" stroke-width="1.6"/>
<path d="M64.7,640.6 L67.9,646.6 L71.1,640.6 L67.9,642.4 Z" fill="#000"/>
<text x="58.6" y="596.8" font-size="12.75">H<tspan font-size="8.6" dy="3">2</tspan><tspan dy="-3">O</tspan><tspan font-size="8.6" dy="3">2</tspan></text>
<line x1="290.4" y1="484.8" x2="290.4" y2="649.4" stroke="#333" stroke-width="1.1"/>
<line x1="289.9" y1="648.9" x2="447" y2="648.9" stroke="#333" stroke-width="1.1"/>
<line x1="287.4" y1="648.9" x2="290.4" y2="648.9" stroke="#333" stroke-width="1"/>
<text x="285.4" y="653.2" font-size="12.45" text-anchor="end">0</text>
<line x1="288.8" y1="628.39" x2="290.4" y2="628.39" stroke="#333" stroke-width="1"/>
<line x1="287.4" y1="607.88" x2="290.4" y2="607.88" stroke="#333" stroke-width="1"/>
<text x="285.4" y="612.17" font-size="12.45" text-anchor="end">2</text>
<line x1="288.8" y1="587.36" x2="290.4" y2="587.36" stroke="#333" stroke-width="1"/>
<line x1="287.4" y1="566.85" x2="290.4" y2="566.85" stroke="#333" stroke-width="1"/>
<text x="285.4" y="571.15" font-size="12.45" text-anchor="end">4</text>
<line x1="288.8" y1="546.34" x2="290.4" y2="546.34" stroke="#333" stroke-width="1"/>
<line x1="287.4" y1="525.83" x2="290.4" y2="525.83" stroke="#333" stroke-width="1"/>
<text x="285.4" y="530.12" font-size="12.45" text-anchor="end">6</text>
<line x1="288.8" y1="505.31" x2="290.4" y2="505.31" stroke="#333" stroke-width="1"/>
<line x1="287.4" y1="484.8" x2="290.4" y2="484.8" stroke="#333" stroke-width="1"/>
<text x="285.4" y="489.1" font-size="12.45" text-anchor="end">8</text>
<line x1="290.4" y1="648.9" x2="290.4" y2="651.3" stroke="#333" stroke-width="1"/>
<text x="290.4" y="663.7" font-size="12.45" text-anchor="middle">0</text>
<line x1="316.5" y1="648.9" x2="316.5" y2="650.2" stroke="#333" stroke-width="1"/>
<line x1="342.6" y1="648.9" x2="342.6" y2="651.3" stroke="#333" stroke-width="1"/>
<text x="342.6" y="663.7" font-size="12.45" text-anchor="middle">20</text>
<line x1="368.7" y1="648.9" x2="368.7" y2="650.2" stroke="#333" stroke-width="1"/>
<line x1="394.8" y1="648.9" x2="394.8" y2="651.3" stroke="#333" stroke-width="1"/>
<text x="394.8" y="663.7" font-size="12.45" text-anchor="middle">40</text>
<line x1="420.9" y1="648.9" x2="420.9" y2="650.2" stroke="#333" stroke-width="1"/>
<line x1="447" y1="648.9" x2="447" y2="651.3" stroke="#333" stroke-width="1"/>
<text x="447" y="663.7" font-size="12.45" text-anchor="middle">60</text>
<text x="368.7" y="683.5" font-size="12.65" text-anchor="middle">Time (s)</text>
<text x="266.3" y="566.7" font-size="12.5" text-anchor="middle" transform="rotate(-90 266.3 566.7)">Counts (x10<tspan font-size="8.8" dy="-4.7">2</tspan><tspan dy="4.7">)</tspan></text>
<line x1="294.9" y1="486.1" x2="309.3" y2="486.1" stroke="#4d4d4d" stroke-width="1.6"/>
<text x="318.6" y="490.2" font-size="12.1">5 mM</text>
<line x1="294.9" y1="499.38" x2="309.3" y2="499.38" stroke="#e04a4a" stroke-width="1.6"/>
<text x="318.6" y="503.48" font-size="12.1">10 mM</text>
<line x1="294.9" y1="512.66" x2="309.3" y2="512.66" stroke="#2b6bd6" stroke-width="1.6"/>
<text x="318.6" y="516.76" font-size="12.1">20 mM</text>
<line x1="294.9" y1="525.94" x2="309.3" y2="525.94" stroke="#35a466" stroke-width="1.6"/>
<text x="318.6" y="530.04" font-size="12.1">40 mM</text>
<line x1="294.9" y1="539.22" x2="309.3" y2="539.22" stroke="#b57be2" stroke-width="1.6"/>
<text x="318.6" y="543.32" font-size="12.1">80 mM</text>
<polyline points="290.4,648.9 304.7,648.65 305.2,648.64 305.7,648.62 306.2,648.58 306.7,648.54 307.2,648.52 307.7,648.51 308.2,648.5 308.7,648.45 309.2,648.4 309.7,648.44 310.2,648.44 310.7,648.4 311.2,648.34 311.7,648.3 312.2,648.33 312.7,648.32 313.2,648.25 313.7,648.22 314.2,648.21 314.7,648.1 315.2,648.04 315.7,648.08 316.2,648.02 316.7,647.92 317.2,647.94 317.7,647.94 318.2,647.88 318.7,647.86 319.2,647.95 319.7,647.99 320.2,647.91 320.7,647.85 321.2,647.89 321.7,647.9 322.2,647.85 322.7,647.86 323.2,647.85 323.7,647.75 324.2,647.69 324.7,647.72 325.2,647.75 325.7,647.7 326.2,647.58 326.7,647.52 327.2,647.48 327.7,647.46 328.2,647.53 328.7,647.55 329.2,647.53 329.7,647.58 330.2,647.58 330.7,647.52 331.2,647.5 331.7,647.44 332.2,647.35 332.7,647.38 333.2,647.34 333.7,647.24 334.2,647.26 334.7,647.3 335.2,647.28 335.7,647.23 336.2,647.21 336.7,647.19 337.2,647.15 337.7,647.16 338.2,647.16 338.7,647.12 339.2,647.11 339.7,647.14 340.2,647.11 340.7,647.06 341.2,647.08 341.7,647.14 342.2,647.07 342.7,646.93 343.2,646.95 343.7,646.96 344.2,646.87 344.7,646.84 345.2,646.85 345.7,646.81 346.2,646.84 346.7,646.84 347.2,646.7 347.7,646.64 348.2,646.65 348.7,646.73 349.2,646.85 349.7,646.78 350.2,646.59 350.7,646.57 351.2,646.69 351.7,646.72 352.2,646.62 352.7,646.53 353.2,646.53 353.7,646.52 354.2,646.46 354.7,646.44 355.2,646.47 355.7,646.47 356.2,646.42 356.7,646.35 357.2,646.29 357.7,646.34 358.2,646.4 358.7,646.31 359.2,646.26 359.7,646.35 360.2,646.41 360.7,646.4 361.2,646.3 361.7,646.15 362.2,646.15 362.7,646.3 363.2,646.34 363.7,646.16 364.2,646.09 364.7,646.11 365.2,646.06 365.7,646.03 366.2,646.04 366.7,646.08 367.2,646.1 367.7,646.08 368.2,646.04 368.7,645.99 369.2,645.91 369.7,645.79 370.2,645.8 370.7,645.9 371.2,645.9 371.7,645.91 372.2,645.95 372.7,645.97 373.2,645.95 373.7,645.9 374.2,645.8 374.7,645.72 375.2,645.69 375.7,645.67 376.2,645.64 376.7,645.65 377.2,645.69 377.7,645.69 378.2,645.6 378.7,645.53 379.2,645.59 379.7,645.67 380.2,645.7 380.7,645.64 381.2,645.54 381.7,645.56 382.2,645.67 382.7,645.69 383.2,645.72 383.7,645.66 384.2,645.52 384.7,645.49 385.2,645.52 385.7,645.51 386.2,645.49 386.7,645.45 387.2,645.37 387.7,645.3 388.2,645.3 388.7,645.31 389.2,645.32 389.7,645.33 390.2,645.36 390.7,645.38 391.2,645.34 391.7,645.31 392.2,645.26 392.7,645.22 393.2,645.2 393.7,645.2 394.2,645.22 394.7,645.22 395.2,645.18 395.7,645.13 396.2,645.15 396.7,645.1 397.2,645.06 397.7,645.07 398.2,645.07 398.7,645.07 399.2,645.02 399.7,644.96 400.2,645.01 400.7,645.1 401.2,645.04 401.7,644.95 402.2,644.92 402.7,644.95 403.2,645 403.7,644.94 404.2,644.96 404.7,644.95 405.2,644.87 405.7,644.93 406.2,644.99 406.7,644.96 407.2,644.94 407.7,644.94 408.2,644.91 408.7,644.87 409.2,644.86 409.7,644.84 410.2,644.81 410.7,644.81 411.2,644.76 411.7,644.72 412.2,644.82 412.7,644.91 413.2,644.85 413.7,644.76 414.2,644.75 414.7,644.71 415.2,644.7 415.7,644.64 416.2,644.56 416.7,644.6 417.2,644.6 417.7,644.55 418.2,644.5 418.7,644.48 419.2,644.56 419.7,644.7 420.2,644.74 420.7,644.69 421.2,644.65 421.7,644.55 422.2,644.46 422.7,644.54 423.2,644.58 423.7,644.55 424.2,644.57 424.7,644.55 425.2,644.45 425.7,644.4 426.2,644.45 426.7,644.47 427.2,644.5 427.7,644.59 428.2,644.6 428.7,644.52 429.2,644.52 429.7,644.55 430.2,644.55 430.7,644.51 431.2,644.46 431.7,644.52 432.2,644.58 432.7,644.5 433.2,644.41 433.7,644.45 434.2,644.49 434.7,644.42 435.2,644.4 435.7,644.4 436.2,644.35 436.7,644.34 437.2,644.32 437.7,644.3 438.2,644.38 438.7,644.35 439.2,644.28 439.7,644.3 440.2,644.24 440.7,644.15 441.2,644.2 441.7,644.3 442.2,644.33 442.7,644.31 443.2,644.29 443.7,644.29 444.2,644.3 444.7,644.32 445.2,644.3 445.7,644.28 446.2,644.28" fill="none" stroke="#4d4d4d" stroke-width="1.6" stroke-linejoin="round" stroke-linecap="round"/>
<polyline points="290.4,648.9 304.72,648.7 305.22,648.62 305.72,648.55 306.22,648.49 306.72,648.4 307.22,648.23 307.72,648.07 308.22,647.98 308.72,647.98 309.22,647.99 309.72,647.9 310.22,647.7 310.72,647.49 311.22,647.44 311.72,647.51 312.22,647.61 312.72,647.58 313.22,647.41 313.72,647.26 314.22,647.2 314.72,647.11 315.22,646.91 315.72,646.78 316.22,646.71 316.72,646.6 317.22,646.52 317.72,646.45 318.22,646.43 318.72,646.36 319.22,646.24 319.72,646.23 320.22,646.13 320.72,645.94 321.22,645.85 321.72,645.86 322.22,645.87 322.72,645.8 323.22,645.71 323.72,645.76 324.22,645.84 324.72,645.66 325.22,645.49 325.72,645.47 326.22,645.41 326.72,645.36 327.22,645.28 327.72,645.02 328.22,644.82 328.72,644.89 329.22,644.96 329.72,644.89 330.22,644.9 330.72,644.85 331.22,644.75 331.72,644.82 332.22,644.87 332.72,644.77 333.22,644.69 333.72,644.69 334.22,644.63 334.72,644.4 335.22,644.24 335.72,644.15 336.22,643.92 336.72,643.75 337.22,643.8 337.72,643.92 338.22,643.83 338.72,643.54 339.22,643.42 339.72,643.53 340.22,643.58 340.72,643.58 341.22,643.65 341.72,643.64 342.22,643.52 342.72,643.36 343.22,643.14 343.72,643.06 344.22,643.18 344.72,643.26 345.22,643.23 345.72,643.17 346.22,643.14 346.72,642.96 347.22,642.68 347.72,642.67 348.22,642.81 348.72,642.73 349.22,642.6 349.72,642.65 350.22,642.58 350.72,642.49 351.22,642.54 351.72,642.45 352.22,642.32 352.72,642.37 353.22,642.31 353.72,642.15 354.22,642 354.72,641.86 355.22,641.92 355.72,642 356.22,641.93 356.72,641.88 357.22,641.89 357.72,641.93 358.22,641.95 358.72,641.83 359.22,641.75 359.72,641.86 360.22,641.9 360.72,641.72 361.22,641.53 361.72,641.46 362.22,641.59 362.72,641.67 363.22,641.59 363.72,641.38 364.22,641.26 364.72,641.37 365.22,641.33 365.72,641.07 366.22,640.99 366.72,641.09 367.22,641.24 367.72,641.3 368.22,641.06 368.72,640.88 369.22,640.8 369.72,640.66 370.22,640.76 370.72,640.95 371.22,640.83 371.72,640.61 372.22,640.57 372.72,640.71 373.22,640.76 373.72,640.65 374.22,640.56 374.72,640.57 375.22,640.52 375.72,640.44 376.22,640.34 376.72,640.12 377.22,640.08 377.72,640.21 378.22,640.2 378.72,640.14 379.22,640.25 379.72,640.34 380.22,640.27 380.72,640.21 381.22,640.21 381.72,640.08 382.22,639.91 382.72,639.97 383.22,640.02 383.72,639.87 384.22,639.81 384.72,639.77 385.22,639.65 385.72,639.64 386.22,639.74 386.72,639.79 387.22,639.67 387.72,639.51 388.22,639.54 388.72,639.68 389.22,639.74 389.72,639.72 390.22,639.7 390.72,639.7 391.22,639.56 391.72,639.38 392.22,639.32 392.72,639.16 393.22,638.94 393.72,639.1 394.22,639.35 394.72,639.11 395.22,638.88 395.72,639.08 396.22,639.29 396.72,639.23 397.22,639.13 397.72,639.06 398.22,639.09 398.72,639.19 399.22,639.14 399.72,639.04 400.22,639.08 400.72,639.06 401.22,638.92 401.72,638.88 402.22,638.82 402.72,638.79 403.22,638.84 403.72,638.74 404.22,638.53 404.72,638.39 405.22,638.5 405.72,638.66 406.22,638.58 406.72,638.53 407.22,638.55 407.72,638.58 408.22,638.54 408.72,638.39 409.22,638.36 409.72,638.4 410.22,638.39 410.72,638.33 411.22,638.32 411.72,638.42 412.22,638.47 412.72,638.33 413.22,638.18 413.72,638.19 414.22,638.21 414.72,638.29 415.22,638.32 415.72,638.15 416.22,637.99 416.72,637.91 417.22,637.88 417.72,637.98 418.22,638.1 418.72,638 419.22,637.95 419.72,637.97 420.22,637.84 420.72,637.88 421.22,637.97 421.72,637.86 422.22,637.72 422.72,637.65 423.22,637.67 423.72,637.58 424.22,637.37 424.72,637.41 425.22,637.52 425.72,637.38 426.22,637.26 426.72,637.31 427.22,637.4 427.72,637.55 428.22,637.6 428.72,637.35 429.22,637.12 429.72,637.13 430.22,637.21 430.72,637.37 431.22,637.47 431.72,637.44 432.22,637.5 432.72,637.46 433.22,637.23 433.72,637.04 434.22,636.96 434.72,636.96 435.22,637.07 435.72,637.15 436.22,637.15 436.72,636.95 437.22,636.76 437.72,636.9 438.22,637.09 438.72,637.01 439.22,636.74 439.72,636.62 440.22,636.64 440.72,636.53 441.22,636.41 441.72,636.6 442.22,636.81 442.72,636.61 443.22,636.39 443.72,636.42 444.22,636.54 444.72,636.66 445.22,636.65 445.72,636.54 446.22,636.41" fill="none" stroke="#e04a4a" stroke-width="1.6" stroke-linejoin="round" stroke-linecap="round"/>
<polyline points="290.4,648.9 304.8,648.84 305.3,648.45 305.8,648.11 306.3,647.87 306.8,647.58 307.3,647.32 307.8,647.04 308.3,646.57 308.8,646.13 309.3,645.95 309.8,645.65 310.3,645.19 310.8,644.94 311.3,644.88 311.8,644.56 312.3,644.02 312.8,643.48 313.3,643.29 313.8,643.43 314.3,643.3 314.8,643.08 315.3,642.96 315.8,642.9 316.3,642.6 316.8,642.17 317.3,641.78 317.8,641.37 318.3,641.05 318.8,640.66 319.3,640.62 319.8,640.67 320.3,640.27 320.8,639.78 321.3,639.45 321.8,639.45 322.3,639.59 322.8,639.38 323.3,638.79 323.8,638.45 324.3,638.34 324.8,637.99 325.3,637.74 325.8,637.78 326.3,637.84 326.8,637.74 327.3,637.53 327.8,637.23 328.3,636.95 328.8,637.04 329.3,637.04 329.8,636.72 330.3,636.46 330.8,636.33 331.3,636.3 331.8,636.21 332.3,636 332.8,635.89 333.3,635.74 333.8,635.29 334.3,634.89 334.8,634.82 335.3,634.77 335.8,634.48 336.3,634.35 336.8,634.56 337.3,634.6 337.8,634.01 338.3,633.27 338.8,633.14 339.3,633.16 339.8,633.07 340.3,633.36 340.8,633.58 341.3,633.17 341.8,632.87 342.3,632.95 342.8,632.84 343.3,632.57 343.8,632.35 344.3,632.34 344.8,632.13 345.3,631.57 345.8,631.55 346.3,632.05 346.8,632.03 347.3,631.53 347.8,631.24 348.3,631.14 348.8,630.99 349.3,631.19 349.8,631.45 350.3,631.34 350.8,631.14 351.3,630.9 351.8,630.88 352.3,630.77 352.8,630.27 353.3,630.11 353.8,630.21 354.3,630.37 354.8,630.51 355.3,630.11 355.8,629.56 356.3,629.42 356.8,629.31 357.3,629.47 357.8,629.68 358.3,629.37 358.8,629.11 359.3,629.12 359.8,629.22 360.3,629.16 360.8,628.93 361.3,628.9 361.8,628.83 362.3,628.43 362.8,628.1 363.3,628.22 363.8,628.45 364.3,628.19 364.8,627.81 365.3,628.11 365.8,628.45 366.3,628.21 366.8,627.99 367.3,627.87 367.8,627.55 368.3,627.3 368.8,627.21 369.3,626.94 369.8,626.97 370.3,627.57 370.8,627.55 371.3,627.06 371.8,626.74 372.3,626.68 372.8,626.78 373.3,626.71 373.8,626.43 374.3,626.19 374.8,626.47 375.3,626.69 375.8,626.39 376.3,626.2 376.8,626.18 377.3,626.24 377.8,626.15 378.3,625.76 378.8,625.51 379.3,625.51 379.8,625.39 380.3,625.25 380.8,625.32 381.3,625.2 381.8,624.9 382.3,625.18 382.8,625.62 383.3,625.32 383.8,625.11 384.3,625.15 384.8,624.44 385.3,623.63 385.8,623.49 386.3,623.75 386.8,624.19 387.3,624.11 387.8,623.77 388.3,623.81 388.8,623.73 389.3,623.74 389.8,623.87 390.3,623.75 390.8,623.59 391.3,623.35 391.8,623.15 392.3,623.32 392.8,623.55 393.3,623.73 393.8,623.85 394.3,623.58 394.8,623.35 395.3,623.28 395.8,622.82 396.3,622.13 396.8,622.06 397.3,622.59 397.8,622.79 398.3,622.56 398.8,622.33 399.3,622.45 399.8,622.62 400.3,622.21 400.8,621.71 401.3,621.84 401.8,621.97 402.3,621.38 402.8,620.73 403.3,620.66 403.8,621.08 404.3,621.51 404.8,621.43 405.3,621.03 405.8,620.87 406.3,621 406.8,621.01 407.3,620.88 407.8,620.77 408.3,620.91 408.8,620.89 409.3,620.45 409.8,620.34 410.3,620.49 410.8,620.57 411.3,620.55 411.8,620.53 412.3,620.53 412.8,620.49 413.3,620.29 413.8,620.03 414.3,620.09 414.8,620.09 415.3,620.15 415.8,620.36 416.3,620.42 416.8,620.02 417.3,619.24 417.8,619.2 418.3,619.47 418.8,619.25 419.3,619.37 419.8,619.74 420.3,619.49 420.8,619.07 421.3,619.13 421.8,619.2 422.3,619 422.8,618.86 423.3,618.64 423.8,618.41 424.3,618.4 424.8,618.42 425.3,618.54 425.8,618.48 426.3,618.29 426.8,618.38 427.3,618.38 427.8,618.28 428.3,618.23 428.8,618.01 429.3,617.88 429.8,617.88 430.3,617.96 430.8,617.75 431.3,617.26 431.8,617.07 432.3,617.02 432.8,617.19 433.3,617.43 433.8,617.5 434.3,617.55 434.8,617.11 435.3,616.46 435.8,616.72 436.3,617.44 436.8,617.51 437.3,616.94 437.8,616.76 438.3,616.87 438.8,616.53 439.3,616.49 439.8,616.65 440.3,616.46 440.8,616.2 441.3,616.32 441.8,616.51 442.3,616.16 442.8,615.88 443.3,616.04 443.8,616.14 444.3,615.97 444.8,615.89 445.3,615.98 445.8,615.81 446.3,615.59" fill="none" stroke="#2b6bd6" stroke-width="1.6" stroke-linejoin="round" stroke-linecap="round"/>
<polyline points="290.4,648.9 304.76,648.66 305.26,648.32 305.76,647.87 306.26,647.39 306.76,647.11 307.26,646.84 307.76,646.34 308.26,645.85 308.76,645.27 309.26,644.72 309.76,644.3 310.26,643.49 310.76,643.05 311.26,642.81 311.76,641.89 312.26,641.01 312.76,640.47 313.26,639.82 313.76,639.06 314.26,638.93 314.76,639.02 315.26,638.48 315.76,637.87 316.26,637.57 316.76,637.24 317.26,636.87 317.76,636.32 318.26,635.77 318.76,635.55 319.26,635.35 319.76,635.13 320.26,634.68 320.76,634.17 321.26,633.86 321.76,633.69 322.26,633.63 322.76,633.44 323.26,633.02 323.76,632.72 324.26,632.63 324.76,632.43 325.26,632.27 325.76,631.87 326.26,631.28 326.76,631.04 327.26,630.86 327.76,630.86 328.26,630.87 328.76,630.63 329.26,630.15 329.76,629.62 330.26,629.47 330.76,629.52 331.26,629.29 331.76,628.9 332.26,628.74 332.76,628.41 333.26,627.8 333.76,627.64 334.26,627.64 334.76,627.23 335.26,627.07 335.76,627.26 336.26,627.1 336.76,626.75 337.26,626.5 337.76,626.21 338.26,625.93 338.76,625.82 339.26,625.92 339.76,625.82 340.26,625.37 340.76,625.04 341.26,624.73 341.76,624.44 342.26,624.53 342.76,624.44 343.26,624.11 343.76,623.93 344.26,623.79 344.76,623.83 345.26,623.65 345.76,622.91 346.26,622.35 346.76,622.22 347.26,621.97 347.76,621.79 348.26,622.02 348.76,622.13 349.26,621.77 349.76,621.19 350.26,620.75 350.76,620.55 351.26,620.53 351.76,620.55 352.26,620.39 352.76,620.18 353.26,620.03 353.76,619.92 354.26,619.91 354.76,619.64 355.26,619.27 355.76,619.13 356.26,619.17 356.76,619.07 357.26,618.84 357.76,618.57 358.26,618.11 358.76,617.63 359.26,617.46 359.76,617.44 360.26,617.1 360.76,616.92 361.26,617 361.76,616.69 362.26,616.5 362.76,616.55 363.26,616.43 363.76,616.22 364.26,616 364.76,615.97 365.26,615.89 365.76,615.72 366.26,615.58 366.76,615.13 367.26,614.79 367.76,614.81 368.26,614.74 368.76,614.37 369.26,614.1 369.76,614.19 370.26,614.14 370.76,613.62 371.26,613.21 371.76,613.3 372.26,613.31 372.76,613.05 373.26,612.69 373.76,612.38 374.26,612.44 374.76,612.58 375.26,612.52 375.76,612.41 376.26,612.13 376.76,611.83 377.26,611.59 377.76,611.23 378.26,611.26 378.76,611.59 379.26,611.28 379.76,610.78 380.26,610.77 380.76,610.63 381.26,610.41 381.76,610.44 382.26,610.53 382.76,610.34 383.26,609.81 383.76,609.59 384.26,609.42 384.76,609.24 385.26,609.63 385.76,609.66 386.26,609.13 386.76,608.83 387.26,608.68 387.76,608.44 388.26,608.28 388.76,608.1 389.26,607.92 389.76,607.96 390.26,608.07 390.76,607.78 391.26,607.09 391.76,606.66 392.26,606.52 392.76,606.53 393.26,606.47 393.76,606 394.26,605.53 394.76,605.47 395.26,605.84 395.76,606.13 396.26,605.95 396.76,605.43 397.26,605 397.76,604.76 398.26,604.42 398.76,604.44 399.26,604.74 399.76,604.66 400.26,604.45 400.76,604.42 401.26,604.59 401.76,604.41 402.26,603.83 402.76,603.5 403.26,603.55 403.76,603.82 404.26,603.71 404.76,603.5 405.26,603.5 405.76,603 406.26,602.22 406.76,601.96 407.26,602.19 407.76,602.26 408.26,602.06 408.76,602.11 409.26,602.11 409.76,601.87 410.26,601.87 410.76,601.87 411.26,601.42 411.76,601 412.26,600.97 412.76,601.13 413.26,601.05 413.76,600.37 414.26,599.88 414.76,600.02 415.26,599.99 415.76,599.78 416.26,599.74 416.76,599.74 417.26,599.52 417.76,599.02 418.26,598.75 418.76,598.71 419.26,598.72 419.76,598.84 420.26,598.66 420.76,598.47 421.26,598.49 421.76,598.34 422.26,598.17 422.76,597.93 423.26,597.56 423.76,597.33 424.26,597.1 424.76,596.82 425.26,596.86 425.76,597.02 426.26,596.76 426.76,596.66 427.26,596.76 427.76,596.43 428.26,596.3 428.76,596.45 429.26,596.22 429.76,595.78 430.26,595.59 430.76,595.67 431.26,595.74 431.76,595.6 432.26,595.41 432.76,595.48 433.26,595.54 433.76,595.3 434.26,594.87 434.76,594.54 435.26,594.34 435.76,594.2 436.26,594.25 436.76,594.06 437.26,593.57 437.76,593.37 438.26,593.46 438.76,593.41 439.26,593.16 439.76,592.99 440.26,592.85 440.76,592.7 441.26,592.66 441.76,592.77 442.26,592.84 442.76,592.53 443.26,592.29 443.76,592.46 444.26,592.31 444.76,591.94 445.26,591.75 445.76,591.39 446.26,591.11" fill="none" stroke="#35a466" stroke-width="1.6" stroke-linejoin="round" stroke-linecap="round"/>
<polyline points="290.4,648.9 304.78,648.61 305.28,647.75 305.78,646.89 306.28,645.94 306.78,644.97 307.28,643.84 307.78,642.53 308.28,641.3 308.78,640.08 309.28,638.85 309.78,637.2 310.28,635.25 310.78,633.63 311.28,632.08 311.78,630.62 312.28,629.22 312.78,627.78 313.28,626.42 313.78,624.89 314.28,623.17 314.78,621.59 315.28,620.58 315.78,620.1 316.28,619.62 316.78,618.76 317.28,617.62 317.78,616.65 318.28,615.83 318.78,614.87 319.28,614.15 319.78,613.83 320.28,613.28 320.78,612.7 321.28,612.28 321.78,611.52 322.28,610.86 322.78,610.68 323.28,610.25 323.78,609.38 324.28,608.39 324.78,607.45 325.28,606.96 325.78,606.82 326.28,606.45 326.78,606.06 327.28,605.86 327.78,605.35 328.28,604.79 328.78,604.07 329.28,603.29 329.78,602.95 330.28,602.32 330.78,601.53 331.28,601.3 331.78,601.07 332.28,600.54 332.78,599.67 333.28,598.63 333.78,597.99 334.28,597.53 334.78,597.05 335.28,596.65 335.78,596.25 336.28,595.46 336.78,594.6 337.28,594.29 337.78,593.89 338.28,592.78 338.78,591.63 339.28,591.04 339.78,590.45 340.28,589.7 340.78,589.11 341.28,588.65 341.78,588.39 342.28,587.91 342.78,586.95 343.28,586.16 343.78,585.69 344.28,585.06 344.78,584.57 345.28,584.21 345.78,583.33 346.28,582.65 346.78,582.69 347.28,582.64 347.78,582.08 348.28,581.48 348.78,580.87 349.28,580.22 349.78,580.02 350.28,579.51 350.78,578.48 351.28,577.66 351.78,576.87 352.28,576.44 352.78,576.17 353.28,575.64 353.78,575.33 354.28,575.07 354.78,574.67 355.28,574.51 355.78,574.19 356.28,573.53 356.78,573.14 357.28,572.68 357.78,571.78 358.28,570.82 358.78,570.26 359.28,570.39 359.78,570.37 360.28,570.05 360.78,569.85 361.28,569.35 361.78,568.51 362.28,567.62 362.78,566.92 363.28,566.59 363.78,566.21 364.28,565.54 364.78,564.83 365.28,564.34 365.78,563.7 366.28,562.8 366.78,562.29 367.28,562.02 367.78,561.61 368.28,560.95 368.78,560.06 369.28,559.17 369.78,558.68 370.28,558.53 370.78,558.06 371.28,557.22 371.78,556.35 372.28,555.91 372.78,555.79 373.28,555.36 373.78,555.04 374.28,554.57 374.78,553.57 375.28,553.06 375.78,553.06 376.28,552.65 376.78,551.98 377.28,551.55 377.78,551.14 378.28,550.8 378.78,550.62 379.28,550.41 379.78,550.16 380.28,549.83 380.78,549.27 381.28,548.53 381.78,547.88 382.28,547.1 382.78,546.4 383.28,546.26 383.78,546.32 384.28,545.79 384.78,545.2 385.28,545.24 385.78,544.96 386.28,544.21 386.78,543.69 387.28,543.2 387.78,543 388.28,543.03 388.78,542.46 389.28,541.82 389.78,541.46 390.28,541.01 390.78,540.76 391.28,540.53 391.78,539.99 392.28,539.54 392.78,539.47 393.28,539.3 393.78,538.64 394.28,538.12 394.78,537.78 395.28,537.17 395.78,536.81 396.28,536.61 396.78,536.06 397.28,535.58 397.78,535.18 398.28,534.41 398.78,533.57 399.28,533.11 399.78,533.14 400.28,533.02 400.78,532.78 401.28,532.85 401.78,532.66 402.28,531.99 402.78,531.36 403.28,531.21 403.78,530.85 404.28,530.25 404.78,530.16 405.28,529.9 405.78,529.5 406.28,529.78 406.78,529.99 407.28,529.34 407.78,528.52 408.28,528.29 408.78,528.09 409.28,527.53 409.78,527.13 410.28,526.78 410.78,526.52 411.28,526.04 411.78,525.3 412.28,524.98 412.78,524.57 413.28,523.68 413.78,523 414.28,522.73 414.78,522.01 415.28,521.03 415.78,520.68 416.28,520.51 416.78,520.22 417.28,519.92 417.78,519.84 418.28,520 418.78,519.71 419.28,519.24 419.78,519.28 420.28,519.19 420.78,518.41 421.28,517.76 421.78,517.91 422.28,517.93 422.78,517.45 423.28,517.4 423.78,517.7 424.28,517.74 424.78,517.53 425.28,517.2 425.78,516.83 426.28,516.7 426.78,516.86 427.28,516.65 427.78,516.03 428.28,515.8 428.78,515.96 429.28,515.63 429.78,514.73 430.28,514.19 430.78,514.28 431.28,514.36 431.78,514.12 432.28,513.46 432.78,512.7 433.28,512.41 433.78,512.12 434.28,512.08 434.78,512.23 435.28,511.72 435.78,511.1 436.28,510.84 436.78,510.81 437.28,510.62 437.78,510.1 438.28,509.68 438.78,509.3 439.28,508.97 439.78,508.93 440.28,508.89 440.78,508.59 441.28,508.03 441.78,507.6 442.28,507.66 442.78,507.79 443.28,507.54 443.78,506.76 444.28,505.91 444.78,505.48 445.28,505.43 445.78,505.36 446.28,505.04" fill="none" stroke="#b57be2" stroke-width="1.6" stroke-linejoin="round" stroke-linecap="round"/>
<line x1="302.1" y1="601.7" x2="302.1" y2="644" stroke="#000" stroke-width="1.6"/>
<path d="M298.9,641 L302.1,647 L305.3,641 L302.1,642.8 Z" fill="#000"/>
<text x="292.9" y="596.8" font-size="12.75">H<tspan font-size="8.6" dy="3">2</tspan><tspan dy="-3">O</tspan><tspan font-size="8.6" dy="3">2</tspan></text>
<line x1="524.2" y1="484.8" x2="524.2" y2="649.3" stroke="#8c8c8c" stroke-width="1.5"/>
<line x1="523.6" y1="649.3" x2="670.6" y2="649.3" stroke="#333" stroke-width="1.1"/>
<line x1="521.4" y1="649.3" x2="524.2" y2="649.3" stroke="#333" stroke-width="1"/>
<text x="519.4" y="653.6" font-size="12.45" text-anchor="end">0.0</text>
<line x1="521.4" y1="594.47" x2="524.2" y2="594.47" stroke="#333" stroke-width="1"/>
<text x="519.4" y="598.77" font-size="12.45" text-anchor="end">0.5</text>
<line x1="521.4" y1="539.63" x2="524.2" y2="539.63" stroke="#333" stroke-width="1"/>
<text x="519.4" y="543.93" font-size="12.45" text-anchor="end">1.0</text>
<line x1="521.4" y1="484.8" x2="524.2" y2="484.8" stroke="#333" stroke-width="1"/>
<text x="519.4" y="489.1" font-size="12.45" text-anchor="end">1.5</text>
<line x1="525.7" y1="649.3" x2="525.7" y2="651.7" stroke="#333" stroke-width="1"/>
<text x="525.7" y="663.9" font-size="12.45" text-anchor="middle">0</text>
<line x1="549.85" y1="649.3" x2="549.85" y2="650.6" stroke="#333" stroke-width="1"/>
<line x1="574" y1="649.3" x2="574" y2="651.7" stroke="#333" stroke-width="1"/>
<text x="574" y="663.9" font-size="12.45" text-anchor="middle">1200</text>
<line x1="598.15" y1="649.3" x2="598.15" y2="650.6" stroke="#333" stroke-width="1"/>
<line x1="622.3" y1="649.3" x2="622.3" y2="651.7" stroke="#333" stroke-width="1"/>
<text x="622.3" y="663.9" font-size="12.45" text-anchor="middle">2400</text>
<line x1="646.45" y1="649.3" x2="646.45" y2="650.6" stroke="#333" stroke-width="1"/>
<line x1="670.6" y1="649.3" x2="670.6" y2="651.7" stroke="#333" stroke-width="1"/>
<text x="670.6" y="663.9" font-size="12.45" text-anchor="middle">3600</text>
<text x="598.15" y="683.2" font-size="12.65" text-anchor="middle">Time (s)</text>
<text x="494.7" y="566.7" font-size="12.5" text-anchor="middle" transform="rotate(-90 494.7 566.7)">Counts (x10<tspan font-size="8.8" dy="-4.7">3</tspan><tspan dy="4.7">)</tspan></text>
<polyline points="526,649.4 526.04,647.63 526.08,645.87 526.12,644.1 526.16,642.33 526.19,640.57 526.22,638.8 526.26,637.04 526.29,635.27 526.31,633.5 526.34,631.74 526.37,629.97 526.39,628.2 526.42,626.44 526.44,624.67 526.46,622.9 526.49,621.14 526.51,619.37 526.53,617.6 526.55,615.83 526.58,614.07 526.6,612.3 526.63,610.53 526.65,608.77 526.68,607 526.7,605.23 526.73,603.47 526.76,601.7 526.79,599.94 526.83,598.17 526.86,596.4 526.9,594.64 526.94,592.87 526.98,591.1 527.02,589.34 527.06,587.57 527.11,585.8 527.16,584.04 527.21,582.27 527.27,580.51 527.32,578.74 527.38,576.97 527.44,575.21 527.5,573.44 527.56,571.68 527.63,569.91 527.69,568.15 527.76,566.38 527.82,564.61 527.89,562.85 527.96,561.08 528.04,559.32 528.11,557.55 528.19,555.79 528.28,554.02 528.36,552.26 528.46,550.49 528.56,548.73 528.66,546.97 528.77,545.2 528.89,543.44 529.01,541.68 529.13,539.91 529.26,538.15 529.4,536.39 529.53,534.63 529.67,532.87 529.82,531.11 529.96,529.35 530.1,527.58 530.25,525.82 530.39,524.06 530.54,522.3 530.69,520.54 530.84,518.78 531,517.02 531.17,515.26 531.36,513.51 531.57,511.75 531.8,510" fill="none" stroke="#f46f6f" stroke-width="1.3" stroke-linejoin="round" stroke-linecap="round"/>
<path d="M530.8,512.94 L531.35,510.38 L531.9,506.67 L532.45,510.91 L533,508.4 L533.55,508.09 L534.1,513.51 L534.65,519.34 L535.2,517.07 L535.75,520.39 L536.3,522.76 L536.85,523.56 L537.4,526.72 L537.95,529.83 L538.5,529.11 L539.05,532.13 L539.6,533.03 L540.15,532.71 L540.7,535.38 L541.25,536.26 L541.8,537.99 L542.35,537.73 L542.9,541.13 L543.45,541.14 L544,542.1 L544.55,542.41 L545.1,542.31 L545.65,545.09 L546.2,547.99 L546.75,546.8 L547.3,552.42 L547.85,553.79 L548.4,556.91 L548.95,557.02 L549.5,558.06 L550.05,559.19 L550.6,559.39 L551.15,557.95 L551.7,560.93 L552.25,561.91 L552.8,562.08 L553.35,562.34 L553.9,562.64 L554.45,563.52 L555,564.24 L555.55,563.39 L556.1,564.31 L556.65,565.88 L557.2,566.59 L557.75,566.37 L558.3,563.39 L558.85,565.9 L559.4,567.59 L559.95,566.08 L560.5,568.36 L561.05,567.77 L561.6,570.15 L562.15,570.84 L562.7,571.27 L563.25,571.44 L563.8,571.42 L564.35,570.16 L564.9,571.37 L565.45,573.74 L566,574.01 L566.55,572.37 L567.1,572.46 L567.65,574.23 L568.2,573.67 L568.75,575 L569.3,574.13 L569.85,574.76 L570.4,573.67 L570.95,573.68 L571.5,571.58 L572.05,574.65 L572.6,575.03 L573.15,574.75 L573.7,575.61 L574.25,575.49 L574.8,574.32 L575.35,576.56 L575.9,575.11 L576.45,577.16 L577,575.96 L577.55,575.9 L578.1,573.94 L578.65,575.94 L579.2,577.61 L579.75,573.49 L580.3,577.08 L580.85,576.46 L581.4,574.57 L581.95,575.74 L582.5,576.38 L583.05,577.38 L583.6,576.81 L584.15,577.36 L584.7,575.76 L585.25,578.18 L585.8,576.41 L586.35,575.28 L586.9,578.78 L587.45,579.62 L588,578.97 L588.55,578.77 L589.1,579.82 L589.65,581.54 L590.2,582.15 L590.75,579.92 L591.3,578.76 L591.85,582.71 L592.4,581.2 L592.95,579.48 L593.5,582.41 L594.05,581.96 L594.6,580.73 L595.15,581.61 L595.7,582.38 L596.25,582.54 L596.8,579.3 L597.35,580.54 L597.9,582.53 L598.45,582.38 L599,582.12 L599.55,579.55 L600.1,581.3 L600.65,582.41 L601.2,581.4 L601.75,583.42 L602.3,579.53 L602.85,582.74 L603.4,583.31 L603.95,583.39 L604.5,582.33 L605.05,583.79 L605.6,582.9 L606.15,582.88 L606.7,580.06 L607.25,583.48 L607.8,584.03 L608.35,583.99 L608.9,581.26 L609.45,582.64 L610,583.36 L610.55,581.34 L611.1,583.33 L611.65,582.13 L612.2,579.19 L612.75,583.06 L613.3,582.75 L613.85,581.93 L614.4,580.38 L614.95,580.04 L615.5,581.7 L616.05,582.36 L616.6,578.61 L617.15,581.17 L617.7,582.26 L618.25,582.74 L618.8,582.93 L619.35,581.92 L619.9,583.5 L620.45,583.78 L621,584.05 L621.55,582.15 L622.1,584.1 L622.65,581.28 L623.2,583.34 L623.75,584.02 L624.3,584.17 L624.85,582.46 L625.4,583.32 L625.95,581.81 L626.5,583.28 L627.05,583.06 L627.6,582.21 L628.15,582.88 L628.7,582.31 L629.25,581.91 L629.8,582.16 L630.35,580.83 L630.9,581.57 L631.45,582.76 L632,581.93 L632.55,583.76 L633.1,584.09 L633.65,583.48 L634.2,582.34 L634.75,583.63 L635.3,584.94 L635.85,583.82 L636.4,584.83 L636.95,585.74 L637.5,584.97 L638.05,583.78 L638.6,585.37 L639.15,584.34 L639.7,585.17 L640.25,583.69 L640.8,580.86 L641.35,584.35 L641.9,583.81 L642.45,584.13 L643,584.38 L643.55,584.2 L644.1,584.1 L644.65,581.18 L645.2,584.06 L645.75,584.4 L646.3,582.94 L646.85,582.78 L647.4,584.22 L647.95,585.23 L648.5,584.42 L649.05,585.64 L649.6,584.91 L650.15,586.23 L650.7,585.54 L651.25,586.31 L651.8,586.56 L652.35,584.05 L652.9,585.46 L653.45,587.06 L654,585.57 L654.55,587.34 L655.1,587.01 L655.65,583.37 L656.2,586.59 L656.75,586.31 L657.3,587.16 L657.85,587.05 L658.4,586.97 L658.95,585.6 L659.5,586.54 L660.05,585.89 L660.6,586.18 L661.15,585.24 L661.7,586.79 L662.25,586.01 L662.8,587.46 L663.35,584.2 L663.9,584.42 L664.45,588.22 L665,588.26 L665.55,588.17 L666.1,588.59 L666.65,589.06 L667.2,587.85 L667.75,589.45 L668.3,589.07 L668.85,589.68 L669.4,592.05 L669.4,600.13 L668.85,600.7 L668.3,599.48 L667.75,600.72 L667.2,599.88 L666.65,599.03 L666.1,599.49 L665.55,599.26 L665,598.5 L664.45,598.89 L663.9,599.36 L663.35,598.58 L662.8,600.05 L662.25,599.5 L661.7,598.88 L661.15,599.61 L660.6,600.24 L660.05,599.66 L659.5,598.71 L658.95,598.92 L658.4,599.27 L657.85,598.29 L657.3,599.79 L656.75,598.46 L656.2,598.6 L655.65,602.06 L655.1,598.57 L654.55,598.56 L654,599 L653.45,599.68 L652.9,598.94 L652.35,599.05 L651.8,599.79 L651.25,599.11 L650.7,598.25 L650.15,598.02 L649.6,599.4 L649.05,601.72 L648.5,599.87 L647.95,598.5 L647.4,600.66 L646.85,601.53 L646.3,597.78 L645.75,598.41 L645.2,598.23 L644.65,597.75 L644.1,599.96 L643.55,598.55 L643,597.25 L642.45,598.72 L641.9,598.54 L641.35,598.81 L640.8,599.13 L640.25,596.97 L639.7,597.59 L639.15,596.9 L638.6,598.89 L638.05,596.78 L637.5,600.73 L636.95,597.15 L636.4,597.11 L635.85,596.73 L635.3,596.93 L634.75,598.11 L634.2,596.49 L633.65,597.62 L633.1,597.18 L632.55,596.63 L632,598.32 L631.45,598.01 L630.9,596.21 L630.35,597.14 L629.8,598.55 L629.25,597.1 L628.7,595.88 L628.15,596.4 L627.6,595.65 L627.05,595.69 L626.5,596.96 L625.95,597.59 L625.4,596.8 L624.85,596.47 L624.3,596.03 L623.75,595.8 L623.2,595.31 L622.65,595.29 L622.1,595.66 L621.55,595.77 L621,594.59 L620.45,596.26 L619.9,596.83 L619.35,595.71 L618.8,594.47 L618.25,597.46 L617.7,594.1 L617.15,594.9 L616.6,593.61 L616.05,593.66 L615.5,594.05 L614.95,594.85 L614.4,592.9 L613.85,592.87 L613.3,592.96 L612.75,593.52 L612.2,592.98 L611.65,593.26 L611.1,592.66 L610.55,594.06 L610,594.99 L609.45,592.54 L608.9,593.17 L608.35,593.42 L607.8,592.49 L607.25,593.89 L606.7,593.66 L606.15,594.09 L605.6,593.96 L605.05,593.02 L604.5,593.02 L603.95,592.27 L603.4,592.3 L602.85,592.17 L602.3,593.58 L601.75,594.6 L601.2,591.68 L600.65,592.07 L600.1,592.46 L599.55,592.93 L599,593.22 L598.45,591.52 L597.9,591.89 L597.35,591.68 L596.8,592.95 L596.25,591.49 L595.7,592.04 L595.15,593.69 L594.6,593.01 L594.05,594.8 L593.5,593.33 L592.95,592.26 L592.4,592.8 L591.85,595.2 L591.3,592.07 L590.75,591.6 L590.2,592.84 L589.65,591.02 L589.1,594.4 L588.55,591.53 L588,594.35 L587.45,590.18 L586.9,593.36 L586.35,590.1 L585.8,590.08 L585.25,591.06 L584.7,590.38 L584.15,591.96 L583.6,590.17 L583.05,590.3 L582.5,590.61 L581.95,592.31 L581.4,592.16 L580.85,590.42 L580.3,592.2 L579.75,594.45 L579.2,591.65 L578.65,590.5 L578.1,590.41 L577.55,590.17 L577,589.36 L576.45,590.64 L575.9,589.19 L575.35,591.31 L574.8,587.67 L574.25,587.85 L573.7,587.68 L573.15,588.46 L572.6,587.29 L572.05,586.53 L571.5,588.6 L570.95,586.92 L570.4,587 L569.85,586.59 L569.3,587.56 L568.75,587.55 L568.2,585.87 L567.65,585.92 L567.1,584.86 L566.55,584.33 L566,585.39 L565.45,583.66 L564.9,582.88 L564.35,580.78 L563.8,581.5 L563.25,581.73 L562.7,579.88 L562.15,581.49 L561.6,580.87 L561.05,579.22 L560.5,579.67 L559.95,578.38 L559.4,578.7 L558.85,578.76 L558.3,577.13 L557.75,579.21 L557.2,576.74 L556.65,577.77 L556.1,576.54 L555.55,577.56 L555,574.67 L554.45,574.48 L553.9,573.25 L553.35,572.54 L552.8,572.27 L552.25,572.84 L551.7,571.59 L551.15,572.24 L550.6,570.88 L550.05,569.5 L549.5,567.15 L548.95,564.73 L548.4,564.09 L547.85,562.12 L547.3,560.75 L546.75,560.4 L546.2,557.35 L545.65,555.68 L545.1,555.46 L544.55,556.24 L544,552.63 L543.45,552.19 L542.9,550.03 L542.35,550.32 L541.8,551.56 L541.25,549.14 L540.7,545.07 L540.15,545.04 L539.6,543.48 L539.05,542.77 L538.5,542.51 L537.95,540.64 L537.4,537.15 L536.85,533.42 L536.3,530.91 L535.75,531.63 L535.2,531.24 L534.65,530.65 L534.1,532.13 L533.55,531.2 L533,529.9 L532.45,529.29 L531.9,529.17 L531.35,531.39 L530.8,531.36 Z" fill="#f46f6f"/>
<line x1="544.4" y1="625.3" x2="531.5" y2="643.6" stroke="#000" stroke-width="1.5"/>
<path d="M528.9,647.2 L529.4,639.6 L531.7,643.3 L535.6,642.2 Z" fill="#000"/>
<text x="533.9" y="619.9" font-size="12.75">H<tspan font-size="8.6" dy="3">2</tspan><tspan dy="-3">O</tspan><tspan font-size="8.6" dy="3">2</tspan></text>
</svg></body></html>
